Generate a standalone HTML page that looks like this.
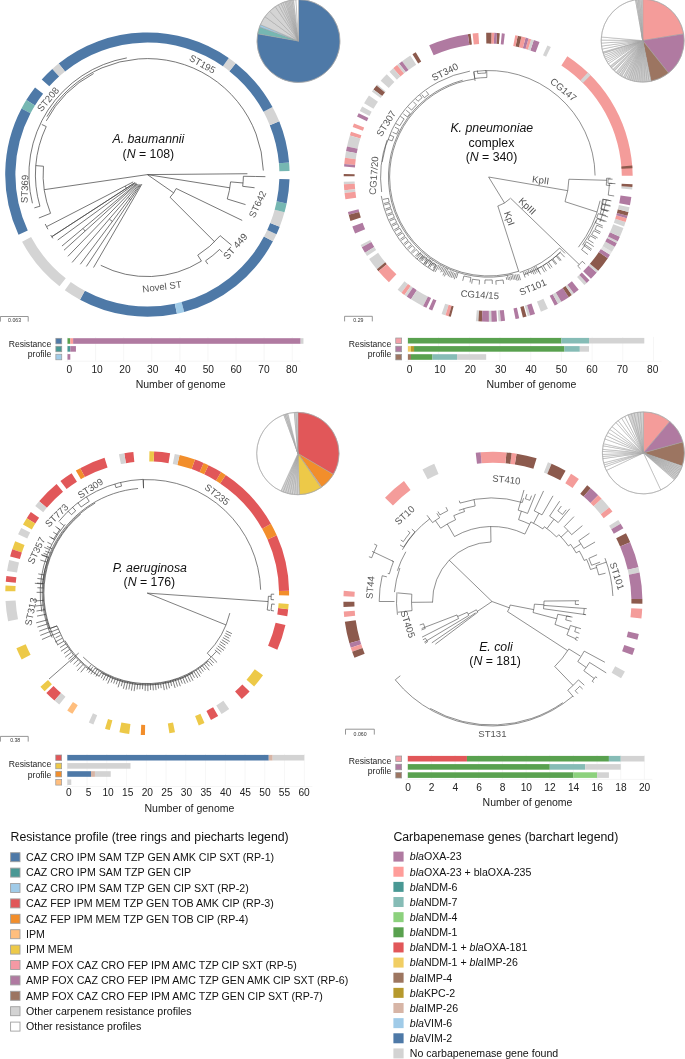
<!DOCTYPE html><html><head><meta charset="utf-8"><style>
html,body{margin:0;padding:0;background:#fff;width:685px;height:1059px;overflow:hidden}
svg{display:block;font-family:"Liberation Sans",sans-serif;will-change:transform}
</style></head><body>
<svg width="685" height="1059" viewBox="0 0 685 1059">
<path d="M79.98 299.8A142.2 142.2 0 0 0 176.97 313.69L174.84 303.72A132 132 0 0 1 84.82 290.82Z" fill="#4e79a7"/>
<path d="M176.97 313.69A142.2 142.2 0 0 0 184.2 311.95L181.56 302.1A132 132 0 0 1 174.84 303.72Z" fill="#a0cbe8"/>
<path d="M184.2 311.95A142.2 142.2 0 0 0 272.96 241.36L263.95 236.57A132 132 0 0 1 181.56 302.1Z" fill="#4e79a7"/>
<path d="M272.96 241.36A142.2 142.2 0 0 0 276.49 234.25L267.23 229.97A132 132 0 0 1 263.95 236.57Z" fill="#d4d4d4"/>
<path d="M276.49 234.25A142.2 142.2 0 0 0 279.71 226.72L270.22 222.98A132 132 0 0 1 267.23 229.97Z" fill="#4e79a7"/>
<path d="M279.71 226.72A142.2 142.2 0 0 0 284.49 212.36L274.66 209.65A132 132 0 0 1 270.22 222.98Z" fill="#d4d4d4"/>
<path d="M284.49 212.36A142.2 142.2 0 0 0 286.65 203.44L276.66 201.37A132 132 0 0 1 274.66 209.65Z" fill="#76b7b2"/>
<path d="M286.65 203.44A142.2 142.2 0 0 0 289.52 179.31L279.33 178.98A132 132 0 0 1 276.66 201.37Z" fill="#4e79a7"/>
<path d="M289.55 170.88A142.2 142.2 0 0 0 289.08 162.45L278.92 163.32A132 132 0 0 1 279.35 171.14Z" fill="#76b7b2"/>
<path d="M289.08 162.45A142.2 142.2 0 0 0 279.25 121.33L269.79 125.15A132 132 0 0 1 278.92 163.32Z" fill="#4e79a7"/>
<path d="M279.25 121.33A142.2 142.2 0 0 0 272.49 106.97L263.51 111.82A132 132 0 0 1 269.79 125.15Z" fill="#d4d4d4"/>
<path d="M272.49 106.97A142.2 142.2 0 0 0 235.73 63.16L229.39 71.15A132 132 0 0 1 263.51 111.82Z" fill="#4e79a7"/>
<path d="M235.73 63.16A142.2 142.2 0 0 0 228.76 57.97L222.92 66.34A132 132 0 0 1 229.39 71.15Z" fill="#d4d4d4"/>
<path d="M228.76 57.97A142.2 142.2 0 0 0 58.68 63.47L65.05 71.44A132 132 0 0 1 222.92 66.34Z" fill="#4e79a7"/>
<path d="M58.68 63.47A142.2 142.2 0 0 0 52.25 68.92L59.07 76.5A132 132 0 0 1 65.05 71.44Z" fill="#d4d4d4"/>
<path d="M52.25 68.92A142.2 142.2 0 0 0 41.72 79.45L49.3 86.27A132 132 0 0 1 59.07 76.5Z" fill="#4e79a7"/>
<path d="M35.04 87.44A142.2 142.2 0 0 0 26.28 100.09L34.97 105.43A132 132 0 0 1 43.1 93.7Z" fill="#4e79a7"/>
<path d="M26.28 100.09A142.2 142.2 0 0 0 21.5 108.5L30.53 113.24A132 132 0 0 1 34.97 105.43Z" fill="#76b7b2"/>
<path d="M21.5 108.5A142.2 142.2 0 0 0 18.52 234.7L27.77 230.39A132 132 0 0 1 30.53 113.24Z" fill="#4e79a7"/>
<path d="M22.08 241.8A142.2 142.2 0 0 0 59.46 286.35L65.77 278.33A132 132 0 0 1 31.07 236.98Z" fill="#d4d4d4"/>
<path d="M64.82 290.37A142.2 142.2 0 0 0 79.98 299.8L84.82 290.82A132 132 0 0 1 70.75 282.06Z" fill="#d4d4d4"/>
<path d="M632.69 175.69A144.5 144.5 0 0 0 567.32 56.29L561.35 65.41A133.6 133.6 0 0 1 621.79 175.8Z" fill="#f49c9a"/>
<path d="M632.41 168.13A144.5 144.5 0 0 0 632.23 165.61L621.37 166.49A133.6 133.6 0 0 1 621.54 168.81Z" fill="#8c5a4d"/>
<path d="M590.56 75.2A144.5 144.5 0 0 0 587.85 72.56L580.33 80.45A133.6 133.6 0 0 1 582.83 82.9Z" fill="#d4d4d4"/>
<path d="M550.86 46.99A144.5 144.5 0 0 0 547.43 45.4L542.97 55.34A133.6 133.6 0 0 1 546.14 56.82Z" fill="#d4d4d4"/>
<path d="M539.51 42.12A144.5 144.5 0 0 0 533.81 40.09L530.37 50.43A133.6 133.6 0 0 1 535.64 52.31Z" fill="#b07aa1"/>
<path d="M533.81 40.09A144.5 144.5 0 0 0 531.17 39.24L527.93 49.64A133.6 133.6 0 0 1 530.37 50.43Z" fill="#d4d4d4"/>
<path d="M531.17 39.24A144.5 144.5 0 0 0 528.51 38.44L525.47 48.9A133.6 133.6 0 0 1 527.93 49.64Z" fill="#f49c9a"/>
<path d="M528.51 38.44A144.5 144.5 0 0 0 525.6 37.62L522.78 48.15A133.6 133.6 0 0 1 525.47 48.9Z" fill="#b07aa1"/>
<path d="M525.6 37.62A144.5 144.5 0 0 0 521.44 36.58L518.93 47.18A133.6 133.6 0 0 1 522.78 48.15Z" fill="#f49c9a"/>
<path d="M521.44 36.58A144.5 144.5 0 0 0 517.75 35.75L515.52 46.42A133.6 133.6 0 0 1 518.93 47.18Z" fill="#8c5a4d"/>
<path d="M517.75 35.75A144.5 144.5 0 0 0 515.28 35.26L513.23 45.97A133.6 133.6 0 0 1 515.52 46.42Z" fill="#f49c9a"/>
<path d="M504.81 33.66A144.5 144.5 0 0 0 501.8 33.34L500.77 44.19A133.6 133.6 0 0 1 503.56 44.49Z" fill="#b07aa1"/>
<path d="M499.79 33.17A144.5 144.5 0 0 0 497.02 32.97L496.36 43.85A133.6 133.6 0 0 1 498.91 44.03Z" fill="#8c5a4d"/>
<path d="M497.02 32.97A144.5 144.5 0 0 0 494.25 32.83L493.79 43.72A133.6 133.6 0 0 1 496.36 43.85Z" fill="#b07aa1"/>
<path d="M494.25 32.83A144.5 144.5 0 0 0 491.48 32.74L491.23 43.63A133.6 133.6 0 0 1 493.79 43.72Z" fill="#f49c9a"/>
<path d="M491.48 32.74A144.5 144.5 0 0 0 486.18 32.71L486.33 43.61A133.6 133.6 0 0 1 491.23 43.63Z" fill="#8c5a4d"/>
<path d="M478.37 33.03A144.5 144.5 0 0 0 472.59 33.55L473.77 44.38A133.6 133.6 0 0 1 479.11 43.91Z" fill="#f49c9a"/>
<path d="M470.59 33.78A144.5 144.5 0 0 0 467.84 34.14L469.38 44.93A133.6 133.6 0 0 1 471.92 44.6Z" fill="#8c5a4d"/>
<path d="M467.84 34.14A144.5 144.5 0 0 0 429.2 45.3L433.65 55.25A133.6 133.6 0 0 1 469.38 44.93Z" fill="#b07aa1"/>
<path d="M415.73 52.19A144.5 144.5 0 0 0 412.48 54.13L418.2 63.41A133.6 133.6 0 0 1 421.2 61.62Z" fill="#8c5a4d"/>
<path d="M410.35 55.47A144.5 144.5 0 0 0 402.05 61.19L408.54 69.94A133.6 133.6 0 0 1 416.22 64.65Z" fill="#d4d4d4"/>
<path d="M402.05 61.19A144.5 144.5 0 0 0 399.04 63.49L405.76 72.07A133.6 133.6 0 0 1 408.54 69.94Z" fill="#b07aa1"/>
<path d="M399.04 63.49A144.5 144.5 0 0 0 397.07 65.06L403.94 73.52A133.6 133.6 0 0 1 405.76 72.07Z" fill="#d4d4d4"/>
<path d="M397.07 65.06A144.5 144.5 0 0 0 393.21 68.31L400.37 76.52A133.6 133.6 0 0 1 403.94 73.52Z" fill="#f49c9a"/>
<path d="M393.21 68.31A144.5 144.5 0 0 0 389.47 71.69L396.91 79.65A133.6 133.6 0 0 1 400.37 76.52Z" fill="#d4d4d4"/>
<path d="M386.74 74.31A144.5 144.5 0 0 0 380.65 80.7L388.76 87.98A133.6 133.6 0 0 1 394.39 82.07Z" fill="#d4d4d4"/>
<path d="M377.34 84.51A144.5 144.5 0 0 0 376.54 85.48L384.96 92.4A133.6 133.6 0 0 1 385.71 91.5Z" fill="#d4d4d4"/>
<path d="M376.54 85.48A144.5 144.5 0 0 0 373.41 89.43L382.07 96.05A133.6 133.6 0 0 1 384.96 92.4Z" fill="#8c5a4d"/>
<path d="M373.41 89.43A144.5 144.5 0 0 0 371.89 91.45L380.67 97.92A133.6 133.6 0 0 1 382.07 96.05Z" fill="#d4d4d4"/>
<path d="M368.97 95.56A144.5 144.5 0 0 0 364.08 103.21L373.44 108.79A133.6 133.6 0 0 1 377.96 101.72Z" fill="#d4d4d4"/>
<path d="M362.19 106.48A144.5 144.5 0 0 0 359.79 110.93L369.48 115.92A133.6 133.6 0 0 1 371.69 111.82Z" fill="#d4d4d4"/>
<path d="M358.66 113.18A144.5 144.5 0 0 0 357.03 116.59L366.92 121.16A133.6 133.6 0 0 1 368.43 118.01Z" fill="#b07aa1"/>
<path d="M354.03 123.54A144.5 144.5 0 0 0 352.68 127.07L362.9 130.85A133.6 133.6 0 0 1 364.15 127.59Z" fill="#f49c9a"/>
<path d="M351.01 131.83A144.5 144.5 0 0 0 349.87 135.43L360.3 138.59A133.6 133.6 0 0 1 361.36 135.25Z" fill="#f49c9a"/>
<path d="M349.87 135.43A144.5 144.5 0 0 0 347.02 146.42L357.67 148.74A133.6 133.6 0 0 1 360.3 138.59Z" fill="#d4d4d4"/>
<path d="M347.02 146.42A144.5 144.5 0 0 0 346.03 151.36L356.75 153.31A133.6 133.6 0 0 1 357.67 148.74Z" fill="#b07aa1"/>
<path d="M346.03 151.36A144.5 144.5 0 0 0 345 157.84L355.8 159.3A133.6 133.6 0 0 1 356.75 153.31Z" fill="#d4d4d4"/>
<path d="M345 157.84A144.5 144.5 0 0 0 344.29 164.1L355.15 165.09A133.6 133.6 0 0 1 355.8 159.3Z" fill="#f49c9a"/>
<path d="M344.29 164.1A144.5 144.5 0 0 0 344.09 166.62L354.96 167.42A133.6 133.6 0 0 1 355.15 165.09Z" fill="#b07aa1"/>
<path d="M343.74 173.92A144.5 144.5 0 0 0 343.7 176.19L354.6 176.27A133.6 133.6 0 0 1 354.63 174.17Z" fill="#8c5a4d"/>
<path d="M343.77 181.74A144.5 144.5 0 0 0 343.87 184.26L354.76 183.73A133.6 133.6 0 0 1 354.67 181.4Z" fill="#d4d4d4"/>
<path d="M343.87 184.26A144.5 144.5 0 0 0 344.29 190.3L355.15 189.31A133.6 133.6 0 0 1 354.76 183.73Z" fill="#f49c9a"/>
<path d="M344.29 190.3A144.5 144.5 0 0 0 344.57 193.06L355.41 191.86A133.6 133.6 0 0 1 355.15 189.31Z" fill="#d4d4d4"/>
<path d="M344.57 193.06A144.5 144.5 0 0 0 345.4 199.31L356.17 197.64A133.6 133.6 0 0 1 355.41 191.86Z" fill="#f49c9a"/>
<path d="M347.93 211.91A144.5 144.5 0 0 0 348.69 214.84L359.21 212A133.6 133.6 0 0 1 358.51 209.29Z" fill="#b07aa1"/>
<path d="M348.69 214.84A144.5 144.5 0 0 0 350.46 220.89L360.85 217.6A133.6 133.6 0 0 1 359.21 212Z" fill="#8c5a4d"/>
<path d="M352.33 226.38A144.5 144.5 0 0 0 355.09 233.43L365.13 229.19A133.6 133.6 0 0 1 362.58 222.67Z" fill="#b07aa1"/>
<path d="M360.61 245.04A144.5 144.5 0 0 0 361.82 247.25L371.35 241.97A133.6 133.6 0 0 1 370.24 239.92Z" fill="#d4d4d4"/>
<path d="M361.82 247.25A144.5 144.5 0 0 0 364.99 252.7L374.29 247.01A133.6 133.6 0 0 1 371.35 241.97Z" fill="#b07aa1"/>
<path d="M364.99 252.7A144.5 144.5 0 0 0 367.01 255.9L376.15 249.96A133.6 133.6 0 0 1 374.29 247.01Z" fill="#d4d4d4"/>
<path d="M369.11 259.05A144.5 144.5 0 0 0 376.86 269.31L385.26 262.36A133.6 133.6 0 0 1 378.1 252.87Z" fill="#d4d4d4"/>
<path d="M376.86 269.31A144.5 144.5 0 0 0 378.49 271.24L386.76 264.14A133.6 133.6 0 0 1 385.26 262.36Z" fill="#8c5a4d"/>
<path d="M378.49 271.24A144.5 144.5 0 0 0 388.92 282.19L396.41 274.27A133.6 133.6 0 0 1 386.76 264.14Z" fill="#f49c9a"/>
<path d="M397.66 289.81A144.5 144.5 0 0 0 401.44 292.75L407.98 284.04A133.6 133.6 0 0 1 404.49 281.32Z" fill="#d4d4d4"/>
<path d="M401.44 292.75A144.5 144.5 0 0 0 404.49 294.99L410.81 286.1A133.6 133.6 0 0 1 407.98 284.04Z" fill="#f49c9a"/>
<path d="M404.49 294.99A144.5 144.5 0 0 0 406.77 296.57L412.91 287.57A133.6 133.6 0 0 1 410.81 286.1Z" fill="#d4d4d4"/>
<path d="M406.77 296.57A144.5 144.5 0 0 0 410.99 299.34L416.81 290.13A133.6 133.6 0 0 1 412.91 287.57Z" fill="#b07aa1"/>
<path d="M410.99 299.34A144.5 144.5 0 0 0 423.05 306.18L427.96 296.45A133.6 133.6 0 0 1 416.81 290.13Z" fill="#d4d4d4"/>
<path d="M423.05 306.18A144.5 144.5 0 0 0 426.45 307.84L431.1 297.99A133.6 133.6 0 0 1 427.96 296.45Z" fill="#b07aa1"/>
<path d="M428.74 308.9A144.5 144.5 0 0 0 432.2 310.41L436.43 300.36A133.6 133.6 0 0 1 433.22 298.96Z" fill="#b07aa1"/>
<path d="M441.63 313.99A144.5 144.5 0 0 0 445.47 315.24L448.69 304.83A133.6 133.6 0 0 1 445.15 303.67Z" fill="#d4d4d4"/>
<path d="M445.47 315.24A144.5 144.5 0 0 0 448.61 316.17L451.6 305.69A133.6 133.6 0 0 1 448.69 304.83Z" fill="#f49c9a"/>
<path d="M448.61 316.17A144.5 144.5 0 0 0 450.8 316.78L453.62 306.25A133.6 133.6 0 0 1 451.6 305.69Z" fill="#8c5a4d"/>
<path d="M475.86 321.17A144.5 144.5 0 0 0 478.37 321.37L479.11 310.49A133.6 133.6 0 0 1 476.79 310.31Z" fill="#d4d4d4"/>
<path d="M478.37 321.37A144.5 144.5 0 0 0 481.9 321.56L482.37 310.67A133.6 133.6 0 0 1 479.11 310.49Z" fill="#8c5a4d"/>
<path d="M481.9 321.56A144.5 144.5 0 0 0 488.96 321.7L488.9 310.8A133.6 133.6 0 0 1 482.37 310.67Z" fill="#b07aa1"/>
<path d="M488.96 321.7A144.5 144.5 0 0 0 491.48 321.66L491.23 310.77A133.6 133.6 0 0 1 488.9 310.8Z" fill="#d4d4d4"/>
<path d="M491.48 321.66A144.5 144.5 0 0 0 497.02 321.43L496.36 310.55A133.6 133.6 0 0 1 491.23 310.77Z" fill="#b07aa1"/>
<path d="M498.53 321.33A144.5 144.5 0 0 0 500.79 321.15L499.84 310.29A133.6 133.6 0 0 1 497.75 310.46Z" fill="#d4d4d4"/>
<path d="M500.79 321.15A144.5 144.5 0 0 0 505.06 320.71L503.79 309.89A133.6 133.6 0 0 1 499.84 310.29Z" fill="#b07aa1"/>
<path d="M515.52 319.09A144.5 144.5 0 0 0 519.23 318.33L516.89 307.68A133.6 133.6 0 0 1 513.46 308.39Z" fill="#b07aa1"/>
<path d="M522.91 317.47A144.5 144.5 0 0 0 526.57 316.51L523.68 306A133.6 133.6 0 0 1 520.29 306.89Z" fill="#8c5a4d"/>
<path d="M527.79 316.17A144.5 144.5 0 0 0 530.21 315.46L527.04 305.03A133.6 133.6 0 0 1 524.8 305.69Z" fill="#d4d4d4"/>
<path d="M530.21 315.46A144.5 144.5 0 0 0 535.01 313.91L531.48 303.6A133.6 133.6 0 0 1 527.04 305.03Z" fill="#b07aa1"/>
<path d="M540.92 311.74A144.5 144.5 0 0 0 547.89 308.79L543.39 298.87A133.6 133.6 0 0 1 536.95 301.59Z" fill="#d4d4d4"/>
<path d="M554.7 305.49A144.5 144.5 0 0 0 558.03 303.7L552.77 294.16A133.6 133.6 0 0 1 549.68 295.81Z" fill="#b07aa1"/>
<path d="M558.03 303.7A144.5 144.5 0 0 0 561.32 301.83L555.81 292.43A133.6 133.6 0 0 1 552.77 294.16Z" fill="#d4d4d4"/>
<path d="M561.32 301.83A144.5 144.5 0 0 0 568.79 297.14L562.71 288.09A133.6 133.6 0 0 1 555.81 292.43Z" fill="#b07aa1"/>
<path d="M568.79 297.14A144.5 144.5 0 0 0 571.91 294.99L565.59 286.1A133.6 133.6 0 0 1 562.71 288.09Z" fill="#8c5a4d"/>
<path d="M571.91 294.99A144.5 144.5 0 0 0 573.95 293.51L567.48 284.73A133.6 133.6 0 0 1 565.59 286.1Z" fill="#d4d4d4"/>
<path d="M573.95 293.51A144.5 144.5 0 0 0 578.74 289.81L571.91 281.32A133.6 133.6 0 0 1 567.48 284.73Z" fill="#b07aa1"/>
<path d="M584.33 285.09A144.5 144.5 0 0 0 586.75 282.88L579.31 274.91A133.6 133.6 0 0 1 577.07 276.95Z" fill="#d4d4d4"/>
<path d="M586.75 282.88A144.5 144.5 0 0 0 589.48 280.26L581.84 272.49A133.6 133.6 0 0 1 579.31 274.91Z" fill="#b07aa1"/>
<path d="M590.91 278.84A144.5 144.5 0 0 0 596.76 272.57L588.57 265.38A133.6 133.6 0 0 1 583.16 271.17Z" fill="#b07aa1"/>
<path d="M596.76 272.57A144.5 144.5 0 0 0 598.24 270.85L589.94 263.79A133.6 133.6 0 0 1 588.57 265.38Z" fill="#d4d4d4"/>
<path d="M598.24 270.85A144.5 144.5 0 0 0 607.85 258.21L598.83 252.1A133.6 133.6 0 0 1 589.94 263.79Z" fill="#8c5a4d"/>
<path d="M607.85 258.21A144.5 144.5 0 0 0 610.07 254.84L600.88 248.98A133.6 133.6 0 0 1 598.83 252.1Z" fill="#b07aa1"/>
<path d="M610.07 254.84A144.5 144.5 0 0 0 611.93 251.84L602.6 246.21A133.6 133.6 0 0 1 600.88 248.98Z" fill="#e4e4e4"/>
<path d="M611.93 251.84A144.5 144.5 0 0 0 614.83 246.81L605.27 241.56A133.6 133.6 0 0 1 602.6 246.21Z" fill="#d4d4d4"/>
<path d="M614.83 246.81A144.5 144.5 0 0 0 616.84 243.03L607.13 238.06A133.6 133.6 0 0 1 605.27 241.56Z" fill="#b07aa1"/>
<path d="M616.84 243.03A144.5 144.5 0 0 0 617.74 241.22L607.97 236.39A133.6 133.6 0 0 1 607.13 238.06Z" fill="#d4d4d4"/>
<path d="M617.74 241.22A144.5 144.5 0 0 0 619.9 236.66L609.96 232.18A133.6 133.6 0 0 1 607.97 236.39Z" fill="#b07aa1"/>
<path d="M619.9 236.66A144.5 144.5 0 0 0 623.46 228.04L613.26 224.21A133.6 133.6 0 0 1 609.96 232.18Z" fill="#d4d4d4"/>
<path d="M624.07 226.38A144.5 144.5 0 0 0 625.55 222.09L615.19 218.71A133.6 133.6 0 0 1 613.82 222.67Z" fill="#d4d4d4"/>
<path d="M625.55 222.09A144.5 144.5 0 0 0 626.75 218.24L616.3 215.14A133.6 133.6 0 0 1 615.19 218.71Z" fill="#f49c9a"/>
<path d="M626.75 218.24A144.5 144.5 0 0 0 627.44 215.82L616.94 212.9A133.6 133.6 0 0 1 616.3 215.14Z" fill="#b07aa1"/>
<path d="M627.44 215.82A144.5 144.5 0 0 0 628.47 211.91L617.89 209.29A133.6 133.6 0 0 1 616.94 212.9Z" fill="#8c5a4d"/>
<path d="M628.47 211.91A144.5 144.5 0 0 0 629.54 207.24L618.88 204.98A133.6 133.6 0 0 1 617.89 209.29Z" fill="#d4d4d4"/>
<path d="M629.95 205.27A144.5 144.5 0 0 0 631.33 197.06L620.53 195.56A133.6 133.6 0 0 1 619.26 203.15Z" fill="#b07aa1"/>
<path d="M632.17 189.54A144.5 144.5 0 0 0 632.37 187.03L621.49 186.29A133.6 133.6 0 0 1 621.31 188.61Z" fill="#d4d4d4"/>
<path d="M632.37 187.03A144.5 144.5 0 0 0 632.53 184.26L621.64 183.73A133.6 133.6 0 0 1 621.49 186.29Z" fill="#8c5a4d"/>
<path d="M289.08 595.43A141.9 141.9 0 0 0 289.08 590.72L278.98 590.9A131.8 131.8 0 0 1 278.98 595.27Z" fill="#f28e2b"/>
<path d="M289.08 590.72A141.9 141.9 0 0 0 276.73 535.26L267.51 539.38A131.8 131.8 0 0 1 278.98 590.9Z" fill="#e15759"/>
<path d="M276.73 535.26A141.9 141.9 0 0 0 270.95 523.76L262.14 528.7A131.8 131.8 0 0 1 267.51 539.38Z" fill="#f28e2b"/>
<path d="M270.95 523.76A141.9 141.9 0 0 0 225.73 475.01L220.14 483.42A131.8 131.8 0 0 1 262.14 528.7Z" fill="#e15759"/>
<path d="M225.73 475.01A141.9 141.9 0 0 0 221.13 472.08L215.87 480.7A131.8 131.8 0 0 1 220.14 483.42Z" fill="#f28e2b"/>
<path d="M221.13 472.08A141.9 141.9 0 0 0 208.51 465.23L204.15 474.34A131.8 131.8 0 0 1 215.87 480.7Z" fill="#e15759"/>
<path d="M208.51 465.23A141.9 141.9 0 0 0 203.56 462.97L199.54 472.24A131.8 131.8 0 0 1 204.15 474.34Z" fill="#f28e2b"/>
<path d="M203.56 462.97A141.9 141.9 0 0 0 195.03 459.61L191.63 469.11A131.8 131.8 0 0 1 199.54 472.24Z" fill="#e15759"/>
<path d="M195.03 459.61A141.9 141.9 0 0 0 179.6 455.05L177.3 464.88A131.8 131.8 0 0 1 191.63 469.11Z" fill="#f28e2b"/>
<path d="M179.6 455.05A141.9 141.9 0 0 0 174.76 454L172.8 463.91A131.8 131.8 0 0 1 177.3 464.88Z" fill="#d4d4d4"/>
<path d="M170.13 453.17A141.9 141.9 0 0 0 154.13 451.47L153.64 461.56A131.8 131.8 0 0 1 168.5 463.13Z" fill="#e15759"/>
<path d="M154.13 451.47A141.9 141.9 0 0 0 149.43 451.32L149.27 461.42A131.8 131.8 0 0 1 153.64 461.56Z" fill="#edc948"/>
<path d="M133.35 451.98A141.9 141.9 0 0 0 124.27 453.17L125.9 463.13A131.8 131.8 0 0 1 134.34 462.03Z" fill="#e15759"/>
<path d="M124.27 453.17A141.9 141.9 0 0 0 118.91 454.15L120.92 464.05A131.8 131.8 0 0 1 125.9 463.13Z" fill="#d4d4d4"/>
<path d="M104.53 457.87A141.9 141.9 0 0 0 80.15 468.14L84.92 477.04A131.8 131.8 0 0 1 107.57 467.5Z" fill="#e15759"/>
<path d="M80.15 468.14A141.9 141.9 0 0 0 75.82 470.56L80.9 479.29A131.8 131.8 0 0 1 84.92 477.04Z" fill="#f28e2b"/>
<path d="M71.58 473.13A141.9 141.9 0 0 0 60.42 480.93L66.6 488.92A131.8 131.8 0 0 1 76.97 481.67Z" fill="#e15759"/>
<path d="M56.56 484.02A141.9 141.9 0 0 0 39.14 501.23L46.83 507.78A131.8 131.8 0 0 1 63.01 491.79Z" fill="#e15759"/>
<path d="M39.14 501.23A141.9 141.9 0 0 0 35.23 506.03L43.2 512.24A131.8 131.8 0 0 1 46.83 507.78Z" fill="#d4d4d4"/>
<path d="M30.82 512.01A141.9 141.9 0 0 0 26.73 518.21L35.31 523.55A131.8 131.8 0 0 1 39.1 517.79Z" fill="#e15759"/>
<path d="M26.73 518.21A141.9 141.9 0 0 0 22.97 524.62L31.81 529.5A131.8 131.8 0 0 1 35.31 523.55Z" fill="#edc948"/>
<path d="M21.22 527.9A141.9 141.9 0 0 0 18.08 534.36L27.27 538.54A131.8 131.8 0 0 1 30.19 532.55Z" fill="#d4d4d4"/>
<path d="M15.17 541.19A141.9 141.9 0 0 0 12.25 549.35L21.85 552.47A131.8 131.8 0 0 1 24.57 544.9Z" fill="#edc948"/>
<path d="M12.25 549.35A141.9 141.9 0 0 0 10.14 556.47L19.89 559.09A131.8 131.8 0 0 1 21.85 552.47Z" fill="#e15759"/>
<path d="M9.22 560.07A141.9 141.9 0 0 0 7.05 571L17.02 572.58A131.8 131.8 0 0 1 19.04 562.43Z" fill="#d4d4d4"/>
<path d="M6.36 575.91A141.9 141.9 0 0 0 5.76 581.82L15.82 582.63A131.8 131.8 0 0 1 16.38 577.14Z" fill="#e15759"/>
<path d="M5.51 585.53A141.9 141.9 0 0 0 5.31 591.22L15.41 591.36A131.8 131.8 0 0 1 15.59 586.07Z" fill="#edc948"/>
<path d="M5.52 601.12A141.9 141.9 0 0 0 8.1 621.25L18 619.25A131.8 131.8 0 0 1 15.61 600.56Z" fill="#d4d4d4"/>
<path d="M16.39 648.19A141.9 141.9 0 0 0 21.68 659.38L30.61 654.67A131.8 131.8 0 0 1 25.7 644.27Z" fill="#edc948"/>
<path d="M40.43 686.67A141.9 141.9 0 0 0 44.61 691.24L51.91 684.26A131.8 131.8 0 0 1 48.03 680.02Z" fill="#edc948"/>
<path d="M46.34 693.01A141.9 141.9 0 0 0 54.48 700.62L61.08 692.97A131.8 131.8 0 0 1 53.52 685.91Z" fill="#e15759"/>
<path d="M54.48 700.62A141.9 141.9 0 0 0 59.25 704.56L65.51 696.63A131.8 131.8 0 0 1 61.08 692.97Z" fill="#d4d4d4"/>
<path d="M67.24 710.42A141.9 141.9 0 0 0 72.42 713.8L77.75 705.22A131.8 131.8 0 0 1 72.93 702.08Z" fill="#ffbe7d"/>
<path d="M88.81 722.53A141.9 141.9 0 0 0 93.36 724.49L97.19 715.14A131.8 131.8 0 0 1 92.96 713.32Z" fill="#d4d4d4"/>
<path d="M105 728.68A141.9 141.9 0 0 0 109.76 730.07L112.42 720.33A131.8 131.8 0 0 1 108.01 719.04Z" fill="#edc948"/>
<path d="M119.4 732.35A141.9 141.9 0 0 0 129.17 733.95L130.45 723.93A131.8 131.8 0 0 1 121.37 722.45Z" fill="#edc948"/>
<path d="M140.76 734.95A141.9 141.9 0 0 0 144.97 735.08L145.13 724.98A131.8 131.8 0 0 1 141.22 724.86Z" fill="#f28e2b"/>
<path d="M169.4 733.35A141.9 141.9 0 0 0 175 732.35L173.03 722.45A131.8 131.8 0 0 1 167.82 723.38Z" fill="#edc948"/>
<path d="M198.75 725.41A141.9 141.9 0 0 0 204.46 723.03L200.39 713.79A131.8 131.8 0 0 1 195.08 716Z" fill="#edc948"/>
<path d="M210.96 719.97A141.9 141.9 0 0 0 218.15 716.09L213.1 707.34A131.8 131.8 0 0 1 206.42 710.95Z" fill="#e15759"/>
<path d="M221.55 714.06A141.9 141.9 0 0 0 229.2 709.01L223.36 700.77A131.8 131.8 0 0 1 216.26 705.46Z" fill="#d4d4d4"/>
<path d="M241.78 698.98A141.9 141.9 0 0 0 249.62 691.42L242.33 684.42A131.8 131.8 0 0 1 235.05 691.45Z" fill="#e15759"/>
<path d="M254.13 686.48A141.9 141.9 0 0 0 263.01 675.2L254.77 669.36A131.8 131.8 0 0 1 246.52 679.84Z" fill="#edc948"/>
<path d="M277.33 649.78A141.9 141.9 0 0 0 285.46 625.12L275.62 622.85A131.8 131.8 0 0 1 268.07 645.76Z" fill="#e15759"/>
<path d="M287.23 616.13A141.9 141.9 0 0 0 288.19 609.26L278.15 608.12A131.8 131.8 0 0 1 277.27 614.5Z" fill="#e15759"/>
<path d="M288.19 609.26A141.9 141.9 0 0 0 288.68 604.09L278.61 603.31A131.8 131.8 0 0 1 278.15 608.12Z" fill="#edc948"/>
<path d="M536.61 458.33A149.5 149.5 0 0 0 516.54 453.68L514.8 464.54A138.5 138.5 0 0 1 533.39 468.85Z" fill="#8c5a4d"/>
<path d="M516.54 453.68A149.5 149.5 0 0 0 511.64 452.98L510.26 463.89A138.5 138.5 0 0 1 514.8 464.54Z" fill="#f49c9a"/>
<path d="M511.64 452.98A149.5 149.5 0 0 0 506.45 452.42L505.45 463.37A138.5 138.5 0 0 1 510.26 463.89Z" fill="#8c5a4d"/>
<path d="M506.45 452.42A149.5 149.5 0 0 0 480.65 452.3L481.55 463.27A138.5 138.5 0 0 1 505.45 463.37Z" fill="#f49c9a"/>
<path d="M480.65 452.3A149.5 149.5 0 0 0 475.72 452.79L476.98 463.72A138.5 138.5 0 0 1 481.55 463.27Z" fill="#b07aa1"/>
<path d="M551.55 463.79A149.5 149.5 0 0 0 547.93 462.3L543.89 472.53A138.5 138.5 0 0 1 547.24 473.9Z" fill="#d4d4d4"/>
<path d="M565.61 470.67A149.5 149.5 0 0 0 551.55 463.79L547.24 473.9A138.5 138.5 0 0 1 560.26 480.28Z" fill="#8c5a4d"/>
<path d="M578.86 478.99A149.5 149.5 0 0 0 571.01 473.83L565.27 483.21A138.5 138.5 0 0 1 572.54 487.99Z" fill="#f49c9a"/>
<path d="M590.78 488.3A149.5 149.5 0 0 0 587.19 485.28L580.25 493.82A138.5 138.5 0 0 1 583.58 496.61Z" fill="#8c5a4d"/>
<path d="M598.24 495.22A149.5 149.5 0 0 0 590.78 488.3L583.58 496.61A138.5 138.5 0 0 1 590.49 503.02Z" fill="#b07aa1"/>
<path d="M601.7 498.77A149.5 149.5 0 0 0 598.24 495.22L590.49 503.02A138.5 138.5 0 0 1 593.7 506.31Z" fill="#f49c9a"/>
<path d="M609.25 507.42A149.5 149.5 0 0 0 601.7 498.77L593.7 506.31A138.5 138.5 0 0 1 600.69 514.33Z" fill="#d4d4d4"/>
<path d="M612.45 511.54A149.5 149.5 0 0 0 609.25 507.42L600.69 514.33A138.5 138.5 0 0 1 603.66 518.14Z" fill="#f49c9a"/>
<path d="M620.64 523.63A149.5 149.5 0 0 0 618.28 519.88L609.06 525.87A138.5 138.5 0 0 1 611.24 529.35Z" fill="#d4d4d4"/>
<path d="M623.4 528.36A149.5 149.5 0 0 0 620.64 523.63L611.24 529.35A138.5 138.5 0 0 1 613.8 533.73Z" fill="#b07aa1"/>
<path d="M630.21 542.17A149.5 149.5 0 0 0 625.99 533.2L616.19 538.21A138.5 138.5 0 0 1 620.1 546.52Z" fill="#8c5a4d"/>
<path d="M638.45 567.16A149.5 149.5 0 0 0 630.21 542.17L620.1 546.52A138.5 138.5 0 0 1 627.74 569.67Z" fill="#b07aa1"/>
<path d="M639.6 572.52A149.5 149.5 0 0 0 638.45 567.16L627.74 569.67A138.5 138.5 0 0 1 628.81 574.64Z" fill="#d4d4d4"/>
<path d="M642.38 598.95A149.5 149.5 0 0 0 639.6 572.52L628.81 574.64A138.5 138.5 0 0 1 631.38 599.12Z" fill="#b07aa1"/>
<path d="M642.38 603.65A149.5 149.5 0 0 0 642.38 598.95L631.38 599.12A138.5 138.5 0 0 1 631.38 603.48Z" fill="#8c5a4d"/>
<path d="M641.41 618.48A149.5 149.5 0 0 0 642.21 608.86L631.22 608.31A138.5 138.5 0 0 1 630.48 617.22Z" fill="#f49c9a"/>
<path d="M637.37 639.74A149.5 149.5 0 0 0 638.8 633.91L628.06 631.51A138.5 138.5 0 0 1 626.74 636.91Z" fill="#b07aa1"/>
<path d="M632.38 655.12A149.5 149.5 0 0 0 634.76 648.49L624.32 645.02A138.5 138.5 0 0 1 622.11 651.16Z" fill="#b07aa1"/>
<path d="M621.05 678.3A149.5 149.5 0 0 0 624.9 671.49L615.19 666.32A138.5 138.5 0 0 1 611.62 672.63Z" fill="#d4d4d4"/>
<path d="M434.25 463.79A149.5 149.5 0 0 0 422.48 469.42L427.66 479.13A138.5 138.5 0 0 1 438.56 473.9Z" fill="#d4d4d4"/>
<path d="M403.97 481.12A149.5 149.5 0 0 0 385 497.82L392.94 505.44A138.5 138.5 0 0 1 410.52 489.97Z" fill="#f49c9a"/>
<path d="M343.76 590.87A149.5 149.5 0 0 0 343.48 596.34L354.48 596.71A138.5 138.5 0 0 1 354.74 591.64Z" fill="#f49c9a"/>
<path d="M343.4 601.82A149.5 149.5 0 0 0 343.51 607.04L354.5 606.62A138.5 138.5 0 0 1 354.4 601.78Z" fill="#8c5a4d"/>
<path d="M343.75 611.47A149.5 149.5 0 0 0 344.22 616.93L355.16 615.78A138.5 138.5 0 0 1 354.72 610.72Z" fill="#f49c9a"/>
<path d="M344.82 621.85A149.5 149.5 0 0 0 349.41 643.26L359.97 640.17A138.5 138.5 0 0 1 355.71 620.34Z" fill="#8c5a4d"/>
<path d="M349.41 643.26A149.5 149.5 0 0 0 350.8 647.75L361.25 644.33A138.5 138.5 0 0 1 359.97 640.17Z" fill="#b07aa1"/>
<path d="M350.8 647.75A149.5 149.5 0 0 0 352.15 651.7L362.51 647.99A138.5 138.5 0 0 1 361.25 644.33Z" fill="#f49c9a"/>
<path d="M352.15 651.7A149.5 149.5 0 0 0 354.48 657.79L364.67 653.63A138.5 138.5 0 0 1 362.51 647.99Z" fill="#8c5a4d"/>
<path d="M298.5 41L298.5 -0.5A41.5 41.5 0 1 1 257.63 33.79Z" fill="#4e79a7" stroke="#a0a0a0" stroke-width="0.5"/>
<path d="M298.5 41L257.63 33.79A41.5 41.5 0 0 1 259.5 26.81Z" fill="#76b7b2" stroke="#a0a0a0" stroke-width="0.5"/>
<path d="M298.5 41L259.5 26.81A41.5 41.5 0 0 1 260.38 24.58Z" fill="#a0cbe8" stroke="#a0a0a0" stroke-width="0.5"/>
<path d="M298.5 41L260.38 24.58A41.5 41.5 0 0 1 264.93 16.61Z" fill="#d4d4d4" stroke="#a0a0a0" stroke-width="0.5"/>
<path d="M298.5 41L264.93 16.61A41.5 41.5 0 0 1 269.67 11.15Z" fill="#d4d4d4" stroke="#a0a0a0" stroke-width="0.5"/>
<path d="M298.5 41L269.67 11.15A41.5 41.5 0 0 1 275.29 6.59Z" fill="#d4d4d4" stroke="#a0a0a0" stroke-width="0.5"/>
<path d="M298.5 41L275.29 6.59A41.5 41.5 0 0 1 278.38 4.7Z" fill="#d4d4d4" stroke="#a0a0a0" stroke-width="0.5"/>
<path d="M298.5 41L278.38 4.7A41.5 41.5 0 0 1 280.96 3.39Z" fill="#d4d4d4" stroke="#a0a0a0" stroke-width="0.5"/>
<path d="M298.5 41L280.96 3.39A41.5 41.5 0 0 1 282.95 2.52Z" fill="#d4d4d4" stroke="#a0a0a0" stroke-width="0.5"/>
<path d="M298.5 41L282.95 2.52A41.5 41.5 0 0 1 284.99 1.76Z" fill="#d4d4d4" stroke="#a0a0a0" stroke-width="0.5"/>
<path d="M298.5 41L284.99 1.76A41.5 41.5 0 0 1 286.37 1.31Z" fill="#d4d4d4" stroke="#a0a0a0" stroke-width="0.5"/>
<path d="M298.5 41L286.37 1.31A41.5 41.5 0 0 1 287.76 0.91Z" fill="#d4d4d4" stroke="#a0a0a0" stroke-width="0.5"/>
<path d="M298.5 41L287.76 0.91A41.5 41.5 0 0 1 289.16 0.56Z" fill="#d4d4d4" stroke="#a0a0a0" stroke-width="0.5"/>
<path d="M298.5 41L289.16 0.56A41.5 41.5 0 0 1 290.58 0.26Z" fill="#d4d4d4" stroke="#a0a0a0" stroke-width="0.5"/>
<path d="M298.5 41L290.58 0.26A41.5 41.5 0 0 1 292.01 0.01Z" fill="#d4d4d4" stroke="#a0a0a0" stroke-width="0.5"/>
<path d="M298.5 41L292.01 0.01A41.5 41.5 0 0 1 293.66 -0.22Z" fill="#d4d4d4" stroke="#a0a0a0" stroke-width="0.5"/>
<path d="M298.5 41L293.66 -0.22A41.5 41.5 0 0 1 295.97 -0.42Z" fill="#ffffff" stroke="#a0a0a0" stroke-width="0.5"/>
<path d="M298.5 41L295.97 -0.42A41.5 41.5 0 0 1 298.5 -0.5Z" fill="#ffffff" stroke="#a0a0a0" stroke-width="0.5"/>
<circle cx="298.5" cy="41" r="41.5" fill="none" stroke="#a8a8a8" stroke-width="0.6"/>
<path d="M642.7 40.6L642.7 -0.9A41.5 41.5 0 0 1 683.65 33.89Z" fill="#f49c9a" stroke="#a0a0a0" stroke-width="0.5"/>
<path d="M642.7 40.6L683.65 33.89A41.5 41.5 0 0 1 668.59 73.03Z" fill="#b07aa1" stroke="#a0a0a0" stroke-width="0.5"/>
<path d="M642.7 40.6L668.59 73.03A41.5 41.5 0 0 1 651.04 81.25Z" fill="#9c7561" stroke="#a0a0a0" stroke-width="0.5"/>
<path d="M642.7 40.6L651.04 81.25A41.5 41.5 0 0 1 649 81.62Z" fill="#d4d4d4" stroke="#a0a0a0" stroke-width="0.5"/>
<path d="M642.7 40.6L649 81.62A41.5 41.5 0 0 1 646.93 81.88Z" fill="#d4d4d4" stroke="#a0a0a0" stroke-width="0.5"/>
<path d="M642.7 40.6L646.93 81.88A41.5 41.5 0 0 1 644.86 82.04Z" fill="#d4d4d4" stroke="#a0a0a0" stroke-width="0.5"/>
<path d="M642.7 40.6L644.86 82.04A41.5 41.5 0 0 1 642.78 82.1Z" fill="#d4d4d4" stroke="#a0a0a0" stroke-width="0.5"/>
<path d="M642.7 40.6L642.78 82.1A41.5 41.5 0 0 1 640.7 82.05Z" fill="#d4d4d4" stroke="#a0a0a0" stroke-width="0.5"/>
<path d="M642.7 40.6L640.7 82.05A41.5 41.5 0 0 1 638.62 81.9Z" fill="#d4d4d4" stroke="#a0a0a0" stroke-width="0.5"/>
<path d="M642.7 40.6L638.62 81.9A41.5 41.5 0 0 1 636.56 81.64Z" fill="#d4d4d4" stroke="#a0a0a0" stroke-width="0.5"/>
<path d="M642.7 40.6L636.56 81.64A41.5 41.5 0 0 1 634.51 81.28Z" fill="#d4d4d4" stroke="#a0a0a0" stroke-width="0.5"/>
<path d="M642.7 40.6L634.51 81.28A41.5 41.5 0 0 1 632.48 80.82Z" fill="#d4d4d4" stroke="#a0a0a0" stroke-width="0.5"/>
<path d="M642.7 40.6L632.48 80.82A41.5 41.5 0 0 1 630.48 80.26Z" fill="#d4d4d4" stroke="#a0a0a0" stroke-width="0.5"/>
<path d="M642.7 40.6L630.48 80.26A41.5 41.5 0 0 1 628.51 79.6Z" fill="#d4d4d4" stroke="#a0a0a0" stroke-width="0.5"/>
<path d="M642.7 40.6L628.51 79.6A41.5 41.5 0 0 1 626.48 78.8Z" fill="#d4d4d4" stroke="#a0a0a0" stroke-width="0.5"/>
<path d="M642.7 40.6L626.48 78.8A41.5 41.5 0 0 1 625.16 78.21Z" fill="#ffffff" stroke="#a0a0a0" stroke-width="0.5"/>
<path d="M642.7 40.6L625.16 78.21A41.5 41.5 0 0 1 623.22 77.24Z" fill="#d4d4d4" stroke="#a0a0a0" stroke-width="0.5"/>
<path d="M642.7 40.6L623.22 77.24A41.5 41.5 0 0 1 621.64 76.36Z" fill="#ffffff" stroke="#a0a0a0" stroke-width="0.5"/>
<path d="M642.7 40.6L621.64 76.36A41.5 41.5 0 0 1 619.49 75.01Z" fill="#d4d4d4" stroke="#a0a0a0" stroke-width="0.5"/>
<path d="M642.7 40.6L619.49 75.01A41.5 41.5 0 0 1 618.31 74.17Z" fill="#ffffff" stroke="#a0a0a0" stroke-width="0.5"/>
<path d="M642.7 40.6L618.31 74.17A41.5 41.5 0 0 1 616.02 72.39Z" fill="#d4d4d4" stroke="#a0a0a0" stroke-width="0.5"/>
<path d="M642.7 40.6L616.02 72.39A41.5 41.5 0 0 1 614.4 70.95Z" fill="#ffffff" stroke="#a0a0a0" stroke-width="0.5"/>
<path d="M642.7 40.6L614.4 70.95A41.5 41.5 0 0 1 612.85 69.43Z" fill="#d4d4d4" stroke="#a0a0a0" stroke-width="0.5"/>
<path d="M642.7 40.6L612.85 69.43A41.5 41.5 0 0 1 611.38 67.83Z" fill="#ffffff" stroke="#a0a0a0" stroke-width="0.5"/>
<path d="M642.7 40.6L611.38 67.83A41.5 41.5 0 0 1 610 66.15Z" fill="#d4d4d4" stroke="#a0a0a0" stroke-width="0.5"/>
<path d="M642.7 40.6L610 66.15A41.5 41.5 0 0 1 608.29 63.81Z" fill="#ffffff" stroke="#a0a0a0" stroke-width="0.5"/>
<path d="M642.7 40.6L608.29 63.81A41.5 41.5 0 0 1 607.25 62.18Z" fill="#ffffff" stroke="#a0a0a0" stroke-width="0.5"/>
<path d="M642.7 40.6L607.25 62.18A41.5 41.5 0 0 1 606.29 60.51Z" fill="#ffffff" stroke="#a0a0a0" stroke-width="0.5"/>
<path d="M642.7 40.6L606.29 60.51A41.5 41.5 0 0 1 605.4 58.79Z" fill="#ffffff" stroke="#a0a0a0" stroke-width="0.5"/>
<path d="M642.7 40.6L605.4 58.79A41.5 41.5 0 0 1 604.59 57.04Z" fill="#ffffff" stroke="#a0a0a0" stroke-width="0.5"/>
<path d="M642.7 40.6L604.59 57.04A41.5 41.5 0 0 1 603.87 55.25Z" fill="#ffffff" stroke="#a0a0a0" stroke-width="0.5"/>
<path d="M642.7 40.6L603.87 55.25A41.5 41.5 0 0 1 603.23 53.42Z" fill="#ffffff" stroke="#a0a0a0" stroke-width="0.5"/>
<path d="M642.7 40.6L603.23 53.42A41.5 41.5 0 0 1 602.81 52.04Z" fill="#d4d4d4" stroke="#a0a0a0" stroke-width="0.5"/>
<path d="M642.7 40.6L602.81 52.04A41.5 41.5 0 0 1 602.08 49.09Z" fill="#ffffff" stroke="#a0a0a0" stroke-width="0.5"/>
<path d="M642.7 40.6L602.08 49.09A41.5 41.5 0 0 1 601.56 46.09Z" fill="#ffffff" stroke="#a0a0a0" stroke-width="0.5"/>
<path d="M642.7 40.6L601.56 46.09A41.5 41.5 0 0 1 601.27 43.06Z" fill="#ffffff" stroke="#a0a0a0" stroke-width="0.5"/>
<path d="M642.7 40.6L601.27 43.06A41.5 41.5 0 0 1 601.2 40.02Z" fill="#ffffff" stroke="#a0a0a0" stroke-width="0.5"/>
<path d="M642.7 40.6L601.2 40.02A41.5 41.5 0 0 1 601.36 36.98Z" fill="#ffffff" stroke="#a0a0a0" stroke-width="0.5"/>
<path d="M642.7 40.6L601.36 36.98A41.5 41.5 0 0 1 635.49 -0.27Z" fill="#ffffff" stroke="#a0a0a0" stroke-width="0.5"/>
<path d="M642.7 40.6L635.49 -0.27A41.5 41.5 0 0 1 636.92 -0.5Z" fill="#d4d4d4" stroke="#a0a0a0" stroke-width="0.5"/>
<path d="M642.7 40.6L636.92 -0.5A41.5 41.5 0 0 1 638.36 -0.67Z" fill="#d4d4d4" stroke="#a0a0a0" stroke-width="0.5"/>
<path d="M642.7 40.6L638.36 -0.67A41.5 41.5 0 0 1 639.81 -0.8Z" fill="#d4d4d4" stroke="#a0a0a0" stroke-width="0.5"/>
<path d="M642.7 40.6L639.81 -0.8A41.5 41.5 0 0 1 641.25 -0.87Z" fill="#d4d4d4" stroke="#a0a0a0" stroke-width="0.5"/>
<path d="M642.7 40.6L641.25 -0.87A41.5 41.5 0 0 1 642.7 -0.9Z" fill="#d4d4d4" stroke="#a0a0a0" stroke-width="0.5"/>
<circle cx="642.7" cy="40.6" r="41.5" fill="none" stroke="#a8a8a8" stroke-width="0.6"/>
<path d="M297.9 453.5L297.9 412.3A41.2 41.2 0 0 1 333.4 474.41Z" fill="#e15759" stroke="#a0a0a0" stroke-width="0.5"/>
<path d="M297.9 453.5L333.4 474.41A41.2 41.2 0 0 1 321.71 487.12Z" fill="#f28e2b" stroke="#a0a0a0" stroke-width="0.5"/>
<path d="M297.9 453.5L321.71 487.12A41.2 41.2 0 0 1 320.94 487.66Z" fill="#ffbe7d" stroke="#a0a0a0" stroke-width="0.5"/>
<path d="M297.9 453.5L320.94 487.66A41.2 41.2 0 0 1 299.34 494.67Z" fill="#edc948" stroke="#a0a0a0" stroke-width="0.5"/>
<path d="M297.9 453.5L299.34 494.67A41.2 41.2 0 0 1 296.97 494.69Z" fill="#d4d4d4" stroke="#a0a0a0" stroke-width="0.5"/>
<path d="M297.9 453.5L296.97 494.69A41.2 41.2 0 0 1 294.6 494.57Z" fill="#d4d4d4" stroke="#a0a0a0" stroke-width="0.5"/>
<path d="M297.9 453.5L294.6 494.57A41.2 41.2 0 0 1 292.24 494.31Z" fill="#d4d4d4" stroke="#a0a0a0" stroke-width="0.5"/>
<path d="M297.9 453.5L292.24 494.31A41.2 41.2 0 0 1 289.9 493.92Z" fill="#d4d4d4" stroke="#a0a0a0" stroke-width="0.5"/>
<path d="M297.9 453.5L289.9 493.92A41.2 41.2 0 0 1 287.58 493.39Z" fill="#d4d4d4" stroke="#a0a0a0" stroke-width="0.5"/>
<path d="M297.9 453.5L287.58 493.39A41.2 41.2 0 0 1 285.31 492.73Z" fill="#d4d4d4" stroke="#a0a0a0" stroke-width="0.5"/>
<path d="M297.9 453.5L285.31 492.73A41.2 41.2 0 0 1 283.07 491.94Z" fill="#d4d4d4" stroke="#a0a0a0" stroke-width="0.5"/>
<path d="M297.9 453.5L283.07 491.94A41.2 41.2 0 0 1 280.88 491.02Z" fill="#d4d4d4" stroke="#a0a0a0" stroke-width="0.5"/>
<path d="M297.9 453.5L280.88 491.02A41.2 41.2 0 0 1 283.81 414.78Z" fill="#ffffff" stroke="#a0a0a0" stroke-width="0.5"/>
<path d="M297.9 453.5L283.81 414.78A41.2 41.2 0 0 1 285.17 414.32Z" fill="#d4d4d4" stroke="#a0a0a0" stroke-width="0.5"/>
<path d="M297.9 453.5L285.17 414.32A41.2 41.2 0 0 1 286.54 413.9Z" fill="#d4d4d4" stroke="#a0a0a0" stroke-width="0.5"/>
<path d="M297.9 453.5L286.54 413.9A41.2 41.2 0 0 1 287.93 413.52Z" fill="#d4d4d4" stroke="#a0a0a0" stroke-width="0.5"/>
<path d="M297.9 453.5L287.93 413.52A41.2 41.2 0 0 1 294.31 412.46Z" fill="#ffffff" stroke="#a0a0a0" stroke-width="0.5"/>
<path d="M297.9 453.5L294.31 412.46A41.2 41.2 0 0 1 296.1 412.34Z" fill="#d4d4d4" stroke="#a0a0a0" stroke-width="0.5"/>
<path d="M297.9 453.5L296.1 412.34A41.2 41.2 0 0 1 297.9 412.3Z" fill="#d4d4d4" stroke="#a0a0a0" stroke-width="0.5"/>
<circle cx="297.9" cy="453.5" r="41.2" fill="none" stroke="#a8a8a8" stroke-width="0.6"/>
<path d="M643.4 452.9L643.4 411.9A41 41 0 0 1 669.81 421.54Z" fill="#f49c9a" stroke="#a0a0a0" stroke-width="0.5"/>
<path d="M643.4 452.9L669.81 421.54A41 41 0 0 1 682.93 442.01Z" fill="#b07aa1" stroke="#a0a0a0" stroke-width="0.5"/>
<path d="M643.4 452.9L682.93 442.01A41 41 0 0 1 682.24 466.05Z" fill="#9c7561" stroke="#a0a0a0" stroke-width="0.5"/>
<path d="M643.4 452.9L682.24 466.05A41 41 0 0 1 681.69 467.55Z" fill="#d4d4d4" stroke="#a0a0a0" stroke-width="0.5"/>
<path d="M643.4 452.9L681.69 467.55A41 41 0 0 1 681.1 469.03Z" fill="#d4d4d4" stroke="#a0a0a0" stroke-width="0.5"/>
<path d="M643.4 452.9L681.1 469.03A41 41 0 0 1 680.44 470.48Z" fill="#d4d4d4" stroke="#a0a0a0" stroke-width="0.5"/>
<path d="M643.4 452.9L680.44 470.48A41 41 0 0 1 679.73 471.91Z" fill="#d4d4d4" stroke="#a0a0a0" stroke-width="0.5"/>
<path d="M643.4 452.9L679.73 471.91A41 41 0 0 1 678.96 473.31Z" fill="#d4d4d4" stroke="#a0a0a0" stroke-width="0.5"/>
<path d="M643.4 452.9L678.96 473.31A41 41 0 0 1 678.14 474.68Z" fill="#d4d4d4" stroke="#a0a0a0" stroke-width="0.5"/>
<path d="M643.4 452.9L678.14 474.68A41 41 0 0 1 677.27 476.01Z" fill="#d4d4d4" stroke="#a0a0a0" stroke-width="0.5"/>
<path d="M643.4 452.9L677.27 476.01A41 41 0 0 1 676.34 477.31Z" fill="#d4d4d4" stroke="#a0a0a0" stroke-width="0.5"/>
<path d="M643.4 452.9L676.34 477.31A41 41 0 0 1 675.37 478.57Z" fill="#d4d4d4" stroke="#a0a0a0" stroke-width="0.5"/>
<path d="M643.4 452.9L675.37 478.57A41 41 0 0 1 674.34 479.8Z" fill="#d4d4d4" stroke="#a0a0a0" stroke-width="0.5"/>
<path d="M643.4 452.9L674.34 479.8A41 41 0 0 1 660.73 490.06Z" fill="#ffffff" stroke="#a0a0a0" stroke-width="0.5"/>
<path d="M643.4 452.9L660.73 490.06A41 41 0 0 1 606.33 470.42Z" fill="#ffffff" stroke="#a0a0a0" stroke-width="0.5"/>
<path d="M643.4 452.9L606.33 470.42A41 41 0 0 1 604.87 466.92Z" fill="#ffffff" stroke="#a0a0a0" stroke-width="0.5"/>
<path d="M643.4 452.9L604.87 466.92A41 41 0 0 1 604.19 464.89Z" fill="#ffffff" stroke="#a0a0a0" stroke-width="0.5"/>
<path d="M643.4 452.9L604.19 464.89A41 41 0 0 1 603.62 462.82Z" fill="#ffffff" stroke="#a0a0a0" stroke-width="0.5"/>
<path d="M643.4 452.9L603.62 462.82A41 41 0 0 1 602.8 458.61Z" fill="#ffffff" stroke="#a0a0a0" stroke-width="0.5"/>
<path d="M643.4 452.9L602.8 458.61A41 41 0 0 1 602.56 456.47Z" fill="#ffffff" stroke="#a0a0a0" stroke-width="0.5"/>
<path d="M643.4 452.9L602.56 456.47A41 41 0 0 1 602.42 454.33Z" fill="#ffffff" stroke="#a0a0a0" stroke-width="0.5"/>
<path d="M643.4 452.9L602.42 454.33A41 41 0 0 1 602.42 451.47Z" fill="#ffffff" stroke="#a0a0a0" stroke-width="0.5"/>
<path d="M643.4 452.9L602.42 451.47A41 41 0 0 1 602.56 449.33Z" fill="#ffffff" stroke="#a0a0a0" stroke-width="0.5"/>
<path d="M643.4 452.9L602.56 449.33A41 41 0 0 1 603.02 445.78Z" fill="#ffffff" stroke="#a0a0a0" stroke-width="0.5"/>
<path d="M643.4 452.9L603.02 445.78A41 41 0 0 1 603.45 443.68Z" fill="#ffffff" stroke="#a0a0a0" stroke-width="0.5"/>
<path d="M643.4 452.9L603.45 443.68A41 41 0 0 1 604.87 438.88Z" fill="#ffffff" stroke="#a0a0a0" stroke-width="0.5"/>
<path d="M643.4 452.9L604.87 438.88A41 41 0 0 1 606.24 435.57Z" fill="#ffffff" stroke="#a0a0a0" stroke-width="0.5"/>
<path d="M643.4 452.9L606.24 435.57A41 41 0 0 1 607.89 432.4Z" fill="#ffffff" stroke="#a0a0a0" stroke-width="0.5"/>
<path d="M643.4 452.9L607.89 432.4A41 41 0 0 1 609.81 429.38Z" fill="#ffffff" stroke="#a0a0a0" stroke-width="0.5"/>
<path d="M643.4 452.9L609.81 429.38A41 41 0 0 1 611.99 426.55Z" fill="#ffffff" stroke="#a0a0a0" stroke-width="0.5"/>
<path d="M643.4 452.9L611.99 426.55A41 41 0 0 1 615.97 422.43Z" fill="#ffffff" stroke="#a0a0a0" stroke-width="0.5"/>
<path d="M643.4 452.9L615.97 422.43A41 41 0 0 1 618.16 420.59Z" fill="#ffffff" stroke="#a0a0a0" stroke-width="0.5"/>
<path d="M643.4 452.9L618.16 420.59A41 41 0 0 1 621.67 418.13Z" fill="#ffffff" stroke="#a0a0a0" stroke-width="0.5"/>
<path d="M643.4 452.9L621.67 418.13A41 41 0 0 1 624.79 416.37Z" fill="#ffffff" stroke="#a0a0a0" stroke-width="0.5"/>
<path d="M643.4 452.9L624.79 416.37A41 41 0 0 1 628.04 414.89Z" fill="#ffffff" stroke="#a0a0a0" stroke-width="0.5"/>
<path d="M643.4 452.9L628.04 414.89A41 41 0 0 1 631.41 413.69Z" fill="#d4d4d4" stroke="#a0a0a0" stroke-width="0.5"/>
<path d="M643.4 452.9L631.41 413.69A41 41 0 0 1 634.18 412.95Z" fill="#d4d4d4" stroke="#a0a0a0" stroke-width="0.5"/>
<path d="M643.4 452.9L634.18 412.95A41 41 0 0 1 637.69 412.3Z" fill="#d4d4d4" stroke="#a0a0a0" stroke-width="0.5"/>
<path d="M643.4 452.9L637.69 412.3A41 41 0 0 1 640.54 412Z" fill="#d4d4d4" stroke="#a0a0a0" stroke-width="0.5"/>
<path d="M643.4 452.9L640.54 412A41 41 0 0 1 643.4 411.9Z" fill="#d4d4d4" stroke="#a0a0a0" stroke-width="0.5"/>
<circle cx="643.4" cy="452.9" r="41" fill="none" stroke="#a8a8a8" stroke-width="0.6"/>
<line x1="67.5" y1="337.2" x2="67.5" y2="361.2" stroke="#f0f0f0" stroke-width="0.6"/>
<line x1="95.59" y1="337.2" x2="95.59" y2="361.2" stroke="#f0f0f0" stroke-width="0.6"/>
<line x1="123.68" y1="337.2" x2="123.68" y2="361.2" stroke="#f0f0f0" stroke-width="0.6"/>
<line x1="151.77" y1="337.2" x2="151.77" y2="361.2" stroke="#f0f0f0" stroke-width="0.6"/>
<line x1="179.86" y1="337.2" x2="179.86" y2="361.2" stroke="#f0f0f0" stroke-width="0.6"/>
<line x1="207.95" y1="337.2" x2="207.95" y2="361.2" stroke="#f0f0f0" stroke-width="0.6"/>
<line x1="236.04" y1="337.2" x2="236.04" y2="361.2" stroke="#f0f0f0" stroke-width="0.6"/>
<line x1="264.13" y1="337.2" x2="264.13" y2="361.2" stroke="#f0f0f0" stroke-width="0.6"/>
<line x1="292.22" y1="337.2" x2="292.22" y2="361.2" stroke="#f0f0f0" stroke-width="0.6"/>
<line x1="64.5" y1="361.2" x2="300.22" y2="361.2" stroke="#f0f0f0" stroke-width="0.6"/>
<rect x="55.85" y="338.3" width="5.9" height="5.6" fill="#4e79a7" stroke="#999" stroke-width="0.7"/>
<rect x="67.5" y="338.2" width="2.81" height="5.6" fill="#59a14f"/>
<rect x="70.31" y="338.2" width="2.81" height="5.6" fill="#ff9d9a"/>
<rect x="73.12" y="338.2" width="227.53" height="5.6" fill="#b07aa1"/>
<rect x="300.65" y="338.2" width="2.81" height="5.6" fill="#d3d3d3"/>
<rect x="55.85" y="346.2" width="5.9" height="5.6" fill="#499894" stroke="#999" stroke-width="0.7"/>
<rect x="67.5" y="346.1" width="2.81" height="5.6" fill="#499894"/>
<rect x="70.31" y="346.1" width="5.62" height="5.6" fill="#b07aa1"/>
<rect x="55.85" y="354.2" width="5.9" height="5.6" fill="#a0cbe8" stroke="#999" stroke-width="0.7"/>
<rect x="67.5" y="354.1" width="2.81" height="5.6" fill="#b07aa1"/>
<text x="69.3" y="372.8" font-size="10.2" text-anchor="middle" fill="#222">0</text>
<text x="97.1" y="372.8" font-size="10.2" text-anchor="middle" fill="#222">10</text>
<text x="124.9" y="372.8" font-size="10.2" text-anchor="middle" fill="#222">20</text>
<text x="152.7" y="372.8" font-size="10.2" text-anchor="middle" fill="#222">30</text>
<text x="180.5" y="372.8" font-size="10.2" text-anchor="middle" fill="#222">40</text>
<text x="208.3" y="372.8" font-size="10.2" text-anchor="middle" fill="#222">50</text>
<text x="236.1" y="372.8" font-size="10.2" text-anchor="middle" fill="#222">60</text>
<text x="263.9" y="372.8" font-size="10.2" text-anchor="middle" fill="#222">70</text>
<text x="291.7" y="372.8" font-size="10.2" text-anchor="middle" fill="#222">80</text>
<text x="51.2" y="346.6" font-size="8.6" text-anchor="end" fill="#222">Resistance</text>
<text x="51.2" y="357.1" font-size="8.6" text-anchor="end" fill="#222">profile</text>
<text x="180.6" y="388.3" font-size="10.5" text-anchor="middle" fill="#222">Number of genome</text>
<line x1="407.9" y1="336.9" x2="407.9" y2="361.3" stroke="#f0f0f0" stroke-width="0.6"/>
<line x1="438.6" y1="336.9" x2="438.6" y2="361.3" stroke="#f0f0f0" stroke-width="0.6"/>
<line x1="469.3" y1="336.9" x2="469.3" y2="361.3" stroke="#f0f0f0" stroke-width="0.6"/>
<line x1="500" y1="336.9" x2="500" y2="361.3" stroke="#f0f0f0" stroke-width="0.6"/>
<line x1="530.7" y1="336.9" x2="530.7" y2="361.3" stroke="#f0f0f0" stroke-width="0.6"/>
<line x1="561.4" y1="336.9" x2="561.4" y2="361.3" stroke="#f0f0f0" stroke-width="0.6"/>
<line x1="592.1" y1="336.9" x2="592.1" y2="361.3" stroke="#f0f0f0" stroke-width="0.6"/>
<line x1="622.8" y1="336.9" x2="622.8" y2="361.3" stroke="#f0f0f0" stroke-width="0.6"/>
<line x1="653.5" y1="336.9" x2="653.5" y2="361.3" stroke="#f0f0f0" stroke-width="0.6"/>
<line x1="404.9" y1="361.3" x2="661.5" y2="361.3" stroke="#f0f0f0" stroke-width="0.6"/>
<rect x="395.75" y="338" width="5.9" height="5.6" fill="#f4a0a8" stroke="#999" stroke-width="0.7"/>
<rect x="407.9" y="337.9" width="153.5" height="5.6" fill="#59a14f"/>
<rect x="561.4" y="337.9" width="27.63" height="5.6" fill="#86bcb6"/>
<rect x="589.03" y="337.9" width="55.26" height="5.6" fill="#d3d3d3"/>
<rect x="395.75" y="346.2" width="5.9" height="5.6" fill="#b07aa1" stroke="#999" stroke-width="0.7"/>
<rect x="407.9" y="346.1" width="3.07" height="5.6" fill="#f1ce63"/>
<rect x="410.97" y="346.1" width="3.07" height="5.6" fill="#b6992d"/>
<rect x="414.04" y="346.1" width="150.43" height="5.6" fill="#59a14f"/>
<rect x="564.47" y="346.1" width="15.35" height="5.6" fill="#86bcb6"/>
<rect x="579.82" y="346.1" width="9.21" height="5.6" fill="#d3d3d3"/>
<rect x="395.75" y="354.3" width="5.9" height="5.6" fill="#9c7561" stroke="#999" stroke-width="0.7"/>
<rect x="407.9" y="354.2" width="3.07" height="5.6" fill="#9d7660"/>
<rect x="410.97" y="354.2" width="21.49" height="5.6" fill="#59a14f"/>
<rect x="432.46" y="354.2" width="24.56" height="5.6" fill="#86bcb6"/>
<rect x="457.02" y="354.2" width="29.16" height="5.6" fill="#d3d3d3"/>
<text x="409.5" y="372.8" font-size="10.2" text-anchor="middle" fill="#222">0</text>
<text x="439.9" y="372.8" font-size="10.2" text-anchor="middle" fill="#222">10</text>
<text x="470.3" y="372.8" font-size="10.2" text-anchor="middle" fill="#222">20</text>
<text x="500.7" y="372.8" font-size="10.2" text-anchor="middle" fill="#222">30</text>
<text x="531.1" y="372.8" font-size="10.2" text-anchor="middle" fill="#222">40</text>
<text x="561.5" y="372.8" font-size="10.2" text-anchor="middle" fill="#222">50</text>
<text x="591.9" y="372.8" font-size="10.2" text-anchor="middle" fill="#222">60</text>
<text x="622.3" y="372.8" font-size="10.2" text-anchor="middle" fill="#222">70</text>
<text x="652.7" y="372.8" font-size="10.2" text-anchor="middle" fill="#222">80</text>
<text x="391.2" y="346.6" font-size="8.6" text-anchor="end" fill="#222">Resistance</text>
<text x="391.2" y="357.1" font-size="8.6" text-anchor="end" fill="#222">profile</text>
<text x="531.4" y="388.3" font-size="10.5" text-anchor="middle" fill="#222">Number of genome</text>
<line x1="67.3" y1="753.9" x2="67.3" y2="786.5" stroke="#f0f0f0" stroke-width="0.6"/>
<line x1="87.05" y1="753.9" x2="87.05" y2="786.5" stroke="#f0f0f0" stroke-width="0.6"/>
<line x1="106.8" y1="753.9" x2="106.8" y2="786.5" stroke="#f0f0f0" stroke-width="0.6"/>
<line x1="126.55" y1="753.9" x2="126.55" y2="786.5" stroke="#f0f0f0" stroke-width="0.6"/>
<line x1="146.3" y1="753.9" x2="146.3" y2="786.5" stroke="#f0f0f0" stroke-width="0.6"/>
<line x1="166.05" y1="753.9" x2="166.05" y2="786.5" stroke="#f0f0f0" stroke-width="0.6"/>
<line x1="185.8" y1="753.9" x2="185.8" y2="786.5" stroke="#f0f0f0" stroke-width="0.6"/>
<line x1="205.55" y1="753.9" x2="205.55" y2="786.5" stroke="#f0f0f0" stroke-width="0.6"/>
<line x1="225.3" y1="753.9" x2="225.3" y2="786.5" stroke="#f0f0f0" stroke-width="0.6"/>
<line x1="245.05" y1="753.9" x2="245.05" y2="786.5" stroke="#f0f0f0" stroke-width="0.6"/>
<line x1="264.8" y1="753.9" x2="264.8" y2="786.5" stroke="#f0f0f0" stroke-width="0.6"/>
<line x1="284.55" y1="753.9" x2="284.55" y2="786.5" stroke="#f0f0f0" stroke-width="0.6"/>
<line x1="304.3" y1="753.9" x2="304.3" y2="786.5" stroke="#f0f0f0" stroke-width="0.6"/>
<line x1="64.3" y1="786.5" x2="312.3" y2="786.5" stroke="#f0f0f0" stroke-width="0.6"/>
<rect x="55.75" y="755" width="5.9" height="5.6" fill="#e15759" stroke="#999" stroke-width="0.7"/>
<rect x="67.3" y="754.9" width="201.45" height="5.6" fill="#4e79a7"/>
<rect x="268.75" y="754.9" width="3.95" height="5.6" fill="#d7b5a6"/>
<rect x="272.7" y="754.9" width="31.6" height="5.6" fill="#d3d3d3"/>
<rect x="55.75" y="763.2" width="5.9" height="5.6" fill="#edc948" stroke="#999" stroke-width="0.7"/>
<rect x="67.3" y="763.1" width="63.2" height="5.6" fill="#d3d3d3"/>
<rect x="55.75" y="771.3" width="5.9" height="5.6" fill="#f28e2b" stroke="#999" stroke-width="0.7"/>
<rect x="67.3" y="771.2" width="23.7" height="5.6" fill="#4e79a7"/>
<rect x="91" y="771.2" width="3.95" height="5.6" fill="#d7b5a6"/>
<rect x="94.95" y="771.2" width="15.8" height="5.6" fill="#d3d3d3"/>
<rect x="55.75" y="779.5" width="5.9" height="5.6" fill="#ffbe7d" stroke="#999" stroke-width="0.7"/>
<rect x="67.3" y="779.4" width="3.95" height="5.6" fill="#d3d3d3"/>
<text x="68.9" y="796.2" font-size="10.2" text-anchor="middle" fill="#222">0</text>
<text x="88.5" y="796.2" font-size="10.2" text-anchor="middle" fill="#222">5</text>
<text x="108.1" y="796.2" font-size="10.2" text-anchor="middle" fill="#222">10</text>
<text x="127.7" y="796.2" font-size="10.2" text-anchor="middle" fill="#222">15</text>
<text x="147.3" y="796.2" font-size="10.2" text-anchor="middle" fill="#222">20</text>
<text x="166.9" y="796.2" font-size="10.2" text-anchor="middle" fill="#222">25</text>
<text x="186.5" y="796.2" font-size="10.2" text-anchor="middle" fill="#222">30</text>
<text x="206.1" y="796.2" font-size="10.2" text-anchor="middle" fill="#222">35</text>
<text x="225.7" y="796.2" font-size="10.2" text-anchor="middle" fill="#222">40</text>
<text x="245.3" y="796.2" font-size="10.2" text-anchor="middle" fill="#222">45</text>
<text x="264.9" y="796.2" font-size="10.2" text-anchor="middle" fill="#222">50</text>
<text x="284.5" y="796.2" font-size="10.2" text-anchor="middle" fill="#222">55</text>
<text x="304.1" y="796.2" font-size="10.2" text-anchor="middle" fill="#222">60</text>
<text x="51.2" y="767" font-size="8.6" text-anchor="end" fill="#222">Resistance</text>
<text x="51.2" y="777.5" font-size="8.6" text-anchor="end" fill="#222">profile</text>
<text x="189.4" y="812" font-size="10.5" text-anchor="middle" fill="#222">Number of genome</text>
<line x1="407.8" y1="754.9" x2="407.8" y2="779.4" stroke="#f0f0f0" stroke-width="0.6"/>
<line x1="431.46" y1="754.9" x2="431.46" y2="779.4" stroke="#f0f0f0" stroke-width="0.6"/>
<line x1="455.12" y1="754.9" x2="455.12" y2="779.4" stroke="#f0f0f0" stroke-width="0.6"/>
<line x1="478.78" y1="754.9" x2="478.78" y2="779.4" stroke="#f0f0f0" stroke-width="0.6"/>
<line x1="502.44" y1="754.9" x2="502.44" y2="779.4" stroke="#f0f0f0" stroke-width="0.6"/>
<line x1="526.1" y1="754.9" x2="526.1" y2="779.4" stroke="#f0f0f0" stroke-width="0.6"/>
<line x1="549.76" y1="754.9" x2="549.76" y2="779.4" stroke="#f0f0f0" stroke-width="0.6"/>
<line x1="573.42" y1="754.9" x2="573.42" y2="779.4" stroke="#f0f0f0" stroke-width="0.6"/>
<line x1="597.08" y1="754.9" x2="597.08" y2="779.4" stroke="#f0f0f0" stroke-width="0.6"/>
<line x1="620.74" y1="754.9" x2="620.74" y2="779.4" stroke="#f0f0f0" stroke-width="0.6"/>
<line x1="644.4" y1="754.9" x2="644.4" y2="779.4" stroke="#f0f0f0" stroke-width="0.6"/>
<line x1="404.8" y1="779.4" x2="652.4" y2="779.4" stroke="#f0f0f0" stroke-width="0.6"/>
<rect x="395.75" y="756" width="5.9" height="5.6" fill="#f4a0a8" stroke="#999" stroke-width="0.7"/>
<rect x="407.8" y="755.9" width="59.15" height="5.6" fill="#e15759"/>
<rect x="466.95" y="755.9" width="141.96" height="5.6" fill="#59a14f"/>
<rect x="608.91" y="755.9" width="11.83" height="5.6" fill="#86bcb6"/>
<rect x="620.74" y="755.9" width="23.66" height="5.6" fill="#d3d3d3"/>
<rect x="395.75" y="764.2" width="5.9" height="5.6" fill="#b07aa1" stroke="#999" stroke-width="0.7"/>
<rect x="407.8" y="764.1" width="141.96" height="5.6" fill="#59a14f"/>
<rect x="549.76" y="764.1" width="35.49" height="5.6" fill="#86bcb6"/>
<rect x="585.25" y="764.1" width="35.49" height="5.6" fill="#d3d3d3"/>
<rect x="395.75" y="772.4" width="5.9" height="5.6" fill="#9c7561" stroke="#999" stroke-width="0.7"/>
<rect x="407.8" y="772.3" width="165.62" height="5.6" fill="#59a14f"/>
<rect x="573.42" y="772.3" width="23.66" height="5.6" fill="#8cd17d"/>
<rect x="597.08" y="772.3" width="11.83" height="5.6" fill="#d3d3d3"/>
<text x="408" y="790.5" font-size="10.2" text-anchor="middle" fill="#222">0</text>
<text x="431.66" y="790.5" font-size="10.2" text-anchor="middle" fill="#222">2</text>
<text x="455.32" y="790.5" font-size="10.2" text-anchor="middle" fill="#222">4</text>
<text x="478.98" y="790.5" font-size="10.2" text-anchor="middle" fill="#222">6</text>
<text x="502.64" y="790.5" font-size="10.2" text-anchor="middle" fill="#222">8</text>
<text x="526.3" y="790.5" font-size="10.2" text-anchor="middle" fill="#222">10</text>
<text x="549.96" y="790.5" font-size="10.2" text-anchor="middle" fill="#222">12</text>
<text x="573.62" y="790.5" font-size="10.2" text-anchor="middle" fill="#222">14</text>
<text x="597.28" y="790.5" font-size="10.2" text-anchor="middle" fill="#222">16</text>
<text x="620.94" y="790.5" font-size="10.2" text-anchor="middle" fill="#222">18</text>
<text x="644.6" y="790.5" font-size="10.2" text-anchor="middle" fill="#222">20</text>
<text x="391.2" y="763.5" font-size="8.6" text-anchor="end" fill="#222">Resistance</text>
<text x="391.2" y="774" font-size="8.6" text-anchor="end" fill="#222">profile</text>
<text x="527.5" y="805.6" font-size="10.5" text-anchor="middle" fill="#222">Number of genome</text>
<text x="10.5" y="841.3" font-size="12.3" text-anchor="start" fill="#111">Resistance profile (tree rings and piecharts legend)</text>
<rect x="10.6" y="852.7" width="9.4" height="9" fill="#4e79a7" stroke="#a0a0a0" stroke-width="0.9"/>
<text x="26" y="860.9" font-size="10.65" text-anchor="start" fill="#111">CAZ CRO IPM SAM TZP GEN AMK CIP SXT (RP-1)</text>
<rect x="10.6" y="868.1" width="9.4" height="9" fill="#499894" stroke="#a0a0a0" stroke-width="0.9"/>
<text x="26" y="876.3" font-size="10.65" text-anchor="start" fill="#111">CAZ CRO IPM SAM TZP GEN CIP</text>
<rect x="10.6" y="883.5" width="9.4" height="9" fill="#a0cbe8" stroke="#a0a0a0" stroke-width="0.9"/>
<text x="26" y="891.7" font-size="10.65" text-anchor="start" fill="#111">CAZ CRO IPM SAM TZP GEN CIP SXT (RP-2)</text>
<rect x="10.6" y="898.9" width="9.4" height="9" fill="#e15759" stroke="#a0a0a0" stroke-width="0.9"/>
<text x="26" y="907.1" font-size="10.65" text-anchor="start" fill="#111">CAZ FEP IPM MEM TZP GEN TOB AMK CIP (RP-3)</text>
<rect x="10.6" y="914.3" width="9.4" height="9" fill="#f28e2b" stroke="#a0a0a0" stroke-width="0.9"/>
<text x="26" y="922.5" font-size="10.65" text-anchor="start" fill="#111">CAZ FEP IPM MEM TZP GEN TOB CIP (RP-4)</text>
<rect x="10.6" y="929.7" width="9.4" height="9" fill="#ffbe7d" stroke="#a0a0a0" stroke-width="0.9"/>
<text x="26" y="937.9" font-size="10.65" text-anchor="start" fill="#111">IPM</text>
<rect x="10.6" y="945.1" width="9.4" height="9" fill="#edc948" stroke="#a0a0a0" stroke-width="0.9"/>
<text x="26" y="953.3" font-size="10.65" text-anchor="start" fill="#111">IPM MEM</text>
<rect x="10.6" y="960.5" width="9.4" height="9" fill="#f599a4" stroke="#a0a0a0" stroke-width="0.9"/>
<text x="26" y="968.7" font-size="10.65" text-anchor="start" fill="#111">AMP FOX CAZ CRO FEP IPM AMC TZP CIP SXT (RP-5)</text>
<rect x="10.6" y="975.9" width="9.4" height="9" fill="#b07aa1" stroke="#a0a0a0" stroke-width="0.9"/>
<text x="26" y="984.1" font-size="10.65" text-anchor="start" fill="#111">AMP FOX CAZ CRO FEP IPM AMC TZP GEN AMK CIP SXT (RP-6)</text>
<rect x="10.6" y="991.3" width="9.4" height="9" fill="#9c7561" stroke="#a0a0a0" stroke-width="0.9"/>
<text x="26" y="999.5" font-size="10.65" text-anchor="start" fill="#111">AMP FOX CAZ CRO FEP IPM AMC TZP GEN CIP SXT (RP-7)</text>
<rect x="10.6" y="1006.7" width="9.4" height="9" fill="#d3d3d3" stroke="#a0a0a0" stroke-width="0.9"/>
<text x="26" y="1014.9" font-size="10.65" text-anchor="start" fill="#111">Other carpenem resistance profiles</text>
<rect x="10.6" y="1022.1" width="9.4" height="9" fill="#fff" stroke="#a0a0a0" stroke-width="0.9"/>
<text x="26" y="1030.3" font-size="10.65" text-anchor="start" fill="#111">Other resistance profiles</text>
<text x="393.4" y="841" font-size="12.3" text-anchor="start" fill="#111">Carbapenemase genes (barchart legend)</text>
<rect x="393.4" y="851.6" width="10.2" height="10" fill="#b07aa1"/>
<text x="409.8" y="860.4" font-size="10.6" text-anchor="start" fill="#111"><tspan font-style="italic">bla</tspan>OXA-23</text>
<rect x="393.4" y="866.74" width="10.2" height="10" fill="#ff9d9a"/>
<text x="409.8" y="875.54" font-size="10.6" text-anchor="start" fill="#111"><tspan font-style="italic">bla</tspan>OXA-23 + blaOXA-235</text>
<rect x="393.4" y="881.88" width="10.2" height="10" fill="#499894"/>
<text x="409.8" y="890.68" font-size="10.6" text-anchor="start" fill="#111"><tspan font-style="italic">bla</tspan>NDM-6</text>
<rect x="393.4" y="897.02" width="10.2" height="10" fill="#86bcb6"/>
<text x="409.8" y="905.82" font-size="10.6" text-anchor="start" fill="#111"><tspan font-style="italic">bla</tspan>NDM-7</text>
<rect x="393.4" y="912.16" width="10.2" height="10" fill="#8cd17d"/>
<text x="409.8" y="920.96" font-size="10.6" text-anchor="start" fill="#111"><tspan font-style="italic">bla</tspan>NDM-4</text>
<rect x="393.4" y="927.3" width="10.2" height="10" fill="#59a14f"/>
<text x="409.8" y="936.1" font-size="10.6" text-anchor="start" fill="#111"><tspan font-style="italic">bla</tspan>NDM-1</text>
<rect x="393.4" y="942.44" width="10.2" height="10" fill="#e15759"/>
<text x="409.8" y="951.24" font-size="10.6" text-anchor="start" fill="#111"><tspan font-style="italic">bla</tspan>NDM-1 + <tspan font-style="italic">bla</tspan>OXA-181</text>
<rect x="393.4" y="957.58" width="10.2" height="10" fill="#f1ce63"/>
<text x="409.8" y="966.38" font-size="10.6" text-anchor="start" fill="#111"><tspan font-style="italic">bla</tspan>NDM-1 + <tspan font-style="italic">bla</tspan>IMP-26</text>
<rect x="393.4" y="972.72" width="10.2" height="10" fill="#9d7660"/>
<text x="409.8" y="981.52" font-size="10.6" text-anchor="start" fill="#111"><tspan font-style="italic">bla</tspan>IMP-4</text>
<rect x="393.4" y="987.86" width="10.2" height="10" fill="#b6992d"/>
<text x="409.8" y="996.66" font-size="10.6" text-anchor="start" fill="#111"><tspan font-style="italic">bla</tspan>KPC-2</text>
<rect x="393.4" y="1003" width="10.2" height="10" fill="#d7b5a6"/>
<text x="409.8" y="1011.8" font-size="10.6" text-anchor="start" fill="#111"><tspan font-style="italic">bla</tspan>IMP-26</text>
<rect x="393.4" y="1018.14" width="10.2" height="10" fill="#a0cbe8"/>
<text x="409.8" y="1026.94" font-size="10.6" text-anchor="start" fill="#111"><tspan font-style="italic">bla</tspan>VIM-6</text>
<rect x="393.4" y="1033.28" width="10.2" height="10" fill="#4e79a7"/>
<text x="409.8" y="1042.08" font-size="10.6" text-anchor="start" fill="#111"><tspan font-style="italic">bla</tspan>VIM-2</text>
<rect x="393.4" y="1048.42" width="10.2" height="10" fill="#d3d3d3"/>
<text x="409.8" y="1057.22" font-size="10.6" text-anchor="start" fill="#111">No carbapenemase gene found</text>
<text x="148.4" y="142.6" font-size="12.3" text-anchor="middle" fill="#111" font-style="italic">A. baumannii</text>
<text x="148.4" y="157.6" font-size="12.3" text-anchor="middle" fill="#111">(<tspan font-style="italic">N</tspan> = 108)</text>
<path d="M147.4 174.6L44.19 189.66M43.44 166.24A104.3 104.3 0 0 0 50.56 213.33M43.44 166.24L35.76 165.62M46.23 126.56A112 112 0 0 0 39.96 206.22M39.96 206.22L34.39 207.86M46.23 126.56L41.8 124.46M50.56 213.33L38.86 218.01M263.33 170.55A116 116 0 0 0 46.94 116.6M126.82 57.9A118.5 118.5 0 0 0 32.42 203.27M93.65 73.5A114.5 114.5 0 0 0 46.3 120.85M147.4 174.6L247.4 173.73M133.18 181.94L46.54 226.66M45.21 224A113.5 113.5 0 0 0 47.94 229.28M134.82 182.77L51.79 236.69M50.72 235.01A114 114 0 0 0 52.89 238.35M134.82 182.77L51.79 236.69M136.09 182.85L57.71 240M136.66 183.58L61.94 246.06M137.03 184L63.99 250.24M138.34 183.92L67.92 256.33M138.94 184.47L72.11 262.45M140.21 184.21L80.31 264.28M140.76 184.6L86.36 266.47M141.88 184.12L93.54 267.52M82.96 228.48A84 84 0 0 0 85.17 231.02M109.33 219.02A58.5 58.5 0 0 0 112.36 221.44M125.18 186.07A25 25 0 0 0 126.43 188.22M128.52 197.91A30 30 0 0 0 130.8 199.59M100.78 265.32A102 102 0 0 0 201.45 261.1M147.4 174.6L229.85 187.81M227.25 199.01A83.5 83.5 0 0 0 230.58 181.88M230.58 181.88L243.03 182.97M242.68 186.3A96 96 0 0 0 243.39 176.28M242.68 186.3L254.59 187.76M243.39 176.28L255.38 176.48M255.38 176.48L265.38 176.66M227.25 199.01L245.52 204.6M147.4 174.6L173.68 192.86M170.03 197.23A32 32 0 0 0 176.21 188.53M176.21 188.53L242.2 220.43M170.03 197.23L214.58 241.78M197.74 255.16A95 95 0 0 0 220.17 235.66M220.17 235.66L231.66 245.31M205.56 260.82A104 104 0 0 0 219.64 249.41M205.56 260.82L207.79 264.14M219.64 249.41L222.42 252.29M197.74 255.16L201.45 261.1" fill="none" stroke="#4a4a4a" stroke-width="0.75"/>
<text x="202.5" y="64" font-size="9.6" text-anchor="middle" dominant-baseline="central" fill="#555" transform="rotate(29.4 202.5 64)">ST195</text>
<text x="47.9" y="99.2" font-size="9.6" text-anchor="middle" dominant-baseline="central" fill="#555" transform="rotate(-50 47.9 99.2)">ST208</text>
<text x="24.5" y="189" font-size="9.6" text-anchor="middle" dominant-baseline="central" fill="#555" transform="rotate(-88 24.5 189)">ST369</text>
<text x="162" y="286.5" font-size="9.6" text-anchor="middle" dominant-baseline="central" fill="#555" transform="rotate(-7.3 162 286.5)">Novel ST</text>
<text x="235.2" y="246.2" font-size="9.6" text-anchor="middle" dominant-baseline="central" fill="#555" transform="rotate(-48.3 235.2 246.2)">ST 449</text>
<text x="257.4" y="204.1" font-size="9.6" text-anchor="middle" dominant-baseline="central" fill="#555" transform="rotate(-64.5 257.4 204.1)">ST642</text>
<path d="M488.6 177L567.73 190.67M565.01 201.68A80.3 80.3 0 0 0 568.87 179.24M568.87 179.24L606.55 180.29M606.31 185.23A118 118 0 0 0 606.59 178.24M606.31 185.23L610.3 185.51M606.59 178.24L610.59 178.28M608.24 195.09A121 121 0 0 0 609.43 183.33M608.24 195.09L614.17 195.99M609.43 183.33L615.43 183.65M607.94 183.25A119.5 119.5 0 0 0 608.08 179.09M607.94 183.25L612.43 183.49M608.08 179.09L612.58 179.16M565.01 201.68L597.08 212.04M578.43 247.19A114 114 0 0 0 600.11 200.7M601.07 209.25A117 117 0 0 0 603.45 199.32M601.07 209.25L607.8 211.18M603.45 199.32L610.32 200.66M488.6 177L504.54 203.01M497.67 206.12A30.5 30.5 0 0 0 510.28 198.45M497.87 206.06L518.7 271.31M510.54 198.19L579.24 264.53M577.7 266.1A126 126 0 0 0 582.24 261.31M577.7 266.1L580.52 268.92M582.24 261.31L585.21 263.99M389.6 177A99 99 0 0 0 519.19 271.15M474.82 78.96A99 99 0 0 0 389.6 177M462.67 80.21A100.2 100.2 0 0 0 512.84 274.22M469.93 71.13A107.5 107.5 0 0 0 382.15 162.04M595.09 175.51A106.5 106.5 0 0 0 473.78 71.54M475.1 80.94L473.78 71.54M486.86 77.52A99.5 99.5 0 0 0 474.75 78.47M486.86 77.52L486.75 71.02M474.75 78.47L473.85 72.03M485.88 73.04A104 104 0 0 0 477.73 73.57M485.88 73.04L485.8 70.04M477.73 73.57L477.42 70.59M519.66 272.58A100.5 100.5 0 0 0 559.66 248.06M524.17 274.73A104 104 0 0 0 560.84 251.81M559.66 248.06L564.97 253.37M428.65 94.48A102 102 0 0 0 424.41 97.73M428.65 94.48L426.29 91.24M424.41 97.73L421.89 94.62M422.07 97.71A103.5 103.5 0 0 0 418.01 101.3M422.07 97.71L419.82 95.03M418.01 101.3L415.63 98.75M416.48 104.88A102 102 0 0 0 411.62 110.08M416.48 104.88L413.29 101.69M411.62 110.08L408.22 107.13M410.11 113.44A101 101 0 0 0 407.41 116.92M410.11 113.44L406.22 110.29M407.41 116.92L403.39 113.95M404.13 118.94A102.5 102.5 0 0 0 399.83 125.75M404.13 118.94L400.42 116.39M399.83 125.75L395.94 123.5M398.98 129.35A101.5 101.5 0 0 0 396.61 134.1M398.98 129.35L395.01 127.24M396.61 134.1L392.53 132.2M393.79 136.75A103 103 0 0 0 392.12 140.93M393.79 136.75L389.65 135M392.12 140.93L387.91 139.35M381.26 195.93A109 109 0 0 0 434.1 271.4M387.11 140.06A108 108 0 0 0 381.65 192.03M388.34 198.31A102.5 102.5 0 0 0 389.23 202.14M388.34 198.31L382.96 199.45M389.23 202.14L383.9 203.49M389.59 203.53A102.5 102.5 0 0 0 390.68 207.31M389.59 203.53L384.28 204.95M390.68 207.31L385.43 208.94M391.12 208.67A102.5 102.5 0 0 0 392.4 212.39M391.12 208.67L385.89 210.37M392.4 212.39L387.24 214.29M392.91 213.73A102.5 102.5 0 0 0 394.39 217.38M392.91 213.73L387.77 215.7M394.39 217.38L389.33 219.55M394.96 218.69A102.5 102.5 0 0 0 396.63 222.25M394.96 218.69L389.94 220.93M396.63 222.25L391.7 224.68M397.27 223.53A102.5 102.5 0 0 0 399.13 227.01M397.27 223.53L392.37 226.03M399.13 227.01L394.32 229.69M399.83 228.25A102.5 102.5 0 0 0 401.87 231.62M399.83 228.25L395.07 231M401.87 231.62L397.21 234.55M402.64 232.83A102.5 102.5 0 0 0 404.84 236.08M402.64 232.83L398.02 235.82M404.84 236.08L400.35 239.25M405.68 237.25A102.5 102.5 0 0 0 408.05 240.39M405.68 237.25L401.23 240.48M408.05 240.39L403.73 243.79M408.94 241.51A102.5 102.5 0 0 0 411.48 244.52M408.94 241.51L404.67 244.97M411.48 244.52L407.34 248.14M412.43 245.59A102.5 102.5 0 0 0 415.12 248.46M412.43 245.59L408.34 249.27M415.12 248.46L411.17 252.29M416.12 249.48A102.5 102.5 0 0 0 418.96 252.21M416.12 249.48L412.23 253.37M418.96 252.21L415.22 256.24M420.01 253.17A102.5 102.5 0 0 0 422.99 255.75M420.01 253.17L416.33 257.26M422.99 255.75L419.47 259.97M424.09 256.66A102.5 102.5 0 0 0 427.2 259.07M424.09 256.66L420.63 260.93M427.2 259.07L423.91 263.48M428.35 259.92A102.5 102.5 0 0 0 431.58 262.18M428.35 259.92L425.12 264.37M431.58 262.18L428.52 266.75M432.77 262.96A102.5 102.5 0 0 0 436.12 265.04M432.77 262.96L429.78 267.58M436.12 265.04L433.3 269.77M485.01 279.94A103 103 0 0 0 492.19 279.94M485.01 279.94L484.87 283.93M492.19 279.94L492.33 283.93M495.85 280.75A104 104 0 0 0 503.07 279.99M495.85 280.75L496.13 284.74M503.07 279.99L503.63 283.95M463.92 275.97A102 102 0 0 0 470.89 277.45M463.92 275.97L462.71 280.82M470.89 277.45L470.02 282.37M472.41 279.23A103.5 103.5 0 0 0 479.58 280.11M472.41 279.23L471.71 283.67M479.58 280.11L479.19 284.59M601.74 203.54A116.21 116.21 0 0 0 602.68 199.17M601.74 203.54L610.43 205.57M602.68 199.17L611.43 200.88M600.86 208.55A116.61 116.61 0 0 0 601.99 204.22M600.86 208.55L609.24 210.91M601.99 204.22L610.45 206.25M600.11 213.66A117.38 117.38 0 0 0 601.43 209.35M600.11 213.66L606.11 215.63M601.43 209.35L607.5 211.1M596.68 217.84A115.54 115.54 0 0 0 598.17 213.66M596.68 217.84L606.48 221.54M598.17 213.66L608.1 216.98M595.48 222.81A116.28 116.28 0 0 0 597.15 218.67M595.48 222.81L602.76 225.93M597.15 218.67L604.55 221.51M594.91 229.31A118.49 118.49 0 0 0 596.84 225.19M594.91 229.31L600.68 232.15M596.84 225.19L602.71 227.81M591.61 234.57A118.01 118.01 0 0 0 593.75 230.58M591.61 234.57L597.65 237.95M593.75 230.58L599.91 233.72M587.96 239.57A117.42 117.42 0 0 0 590.29 235.71M587.96 239.57L593.49 243.05M590.29 235.71L595.95 238.98M583.94 245.51A117.4 117.4 0 0 0 586.5 241.8M583.94 245.51L591.01 250.59M586.5 241.8L593.76 246.6M599.86 221.95A120 120 0 0 0 606.4 199.9M582.45 245.18A116 116 0 0 0 596.15 220.45M581.59 249.65A118 118 0 0 0 585.26 244.68M581.59 249.65L587.89 254.57M585.26 244.68L591.81 249.27M556.97 255.37A104 104 0 0 0 560.19 252.44M556.97 255.37L561.24 260.27M560.19 252.44L564.66 257.15M552.77 258.84A104 104 0 0 0 556.14 256.08M552.77 258.84L556.78 263.96M556.14 256.08L560.36 261.02M548.4 262.09A104 104 0 0 0 551.91 259.51M548.4 262.09L552.14 267.41M551.91 259.51L555.87 264.67M543.09 265.58A104 104 0 0 0 546.76 263.22M543.09 265.58L546.5 271.12M546.76 263.22L550.39 268.61M537.59 268.74A104 104 0 0 0 541.38 266.61M537.59 268.74L540.65 274.48M541.38 266.61L544.68 272.21M523.16 271.95L525.18 277.51M524.92 271.61L525.96 274.33M526.63 271.12L528.44 275.62M527.91 269.61L529.28 272.85M529.98 269.94L531.67 273.74M531.47 268.93L534.04 274.44M533.06 268.16L535.81 273.79M534.36 266.8L537.27 272.52M535.96 266.08L539.18 272.13M506.27 277.21L506.73 279.8M507.56 275.46L508.43 279.98M509.44 276.78L510.22 280.51M510.86 275.78L511.73 279.63M512.35 275.18L513.42 279.58M513.81 274.49L515.23 279.95M515.47 274.54L517.18 280.75M517.05 274.29L518.83 280.39M518.68 274.16L520.53 280.14M420.79 252.31L417.9 255.52M421.73 253.65L417.04 259.03M422.89 254.76L419.36 258.94M424.36 255.49L421.56 258.91M425.45 256.67L421.95 261.09M427.38 256.79L424.53 260.5M427.96 258.65L423.64 264.47M430.14 258.35L425.46 264.87M431.06 259.79L428.33 263.72M432.5 260.49L428.32 266.7M433.19 262.33L431.32 265.21M434.81 262.75L432.71 266.1M436.05 263.77L433.52 267.95M437.26 264.86L433.65 271.04M439.01 265L435.09 271.96M440.59 265.43L438.35 269.55M441.71 266.68L439.9 270.16M443.49 266.69L440.69 272.26M444.55 268.13L442.63 272.1M446.46 267.78L442.93 275.39M447.67 268.93L444.33 276.43M448.66 270.63L446.81 274.97M450.47 270.44L448.14 276.14M451.81 271.37L449.59 277.05M453.35 271.78L451.14 277.74M454.59 273.04L452.87 277.89M456.43 272.59L454.19 279.25M458.05 272.72L456.31 278.18" fill="none" stroke="#444" stroke-width="0.6"/>
<text x="444.8" y="71.8" font-size="9.6" text-anchor="middle" dominant-baseline="central" fill="#555" transform="rotate(-26.6 444.8 71.8)">ST340</text>
<text x="386" y="123.4" font-size="9.6" text-anchor="middle" dominant-baseline="central" fill="#555" transform="rotate(-58 386 123.4)">ST307</text>
<text x="373.6" y="175.5" font-size="9.6" text-anchor="middle" dominant-baseline="central" fill="#555" transform="rotate(-86 373.6 175.5)">CG17/20</text>
<text x="479.8" y="294.5" font-size="9.6" text-anchor="middle" dominant-baseline="central" fill="#555" transform="rotate(4 479.8 294.5)">CG14/15</text>
<text x="532.7" y="287" font-size="9.6" text-anchor="middle" dominant-baseline="central" fill="#555" transform="rotate(-22.5 532.7 287)">ST101</text>
<text x="563.5" y="89.5" font-size="9.6" text-anchor="middle" dominant-baseline="central" fill="#555" transform="rotate(39.5 563.5 89.5)">CG147</text>
<text x="540.8" y="179.9" font-size="9.6" text-anchor="middle" dominant-baseline="central" fill="#555" transform="rotate(8 540.8 179.9)">KpII</text>
<text x="527.5" y="206" font-size="9.6" text-anchor="middle" dominant-baseline="central" fill="#555" transform="rotate(43 527.5 206)">KpIII</text>
<text x="509.5" y="218.4" font-size="9.6" text-anchor="middle" dominant-baseline="central" fill="#555" transform="rotate(70 509.5 218.4)">KpI</text>
<text x="491.8" y="131.9" font-size="12.3" text-anchor="middle" fill="#111" font-style="italic">K. pneumoniae</text>
<text x="491.4" y="146.5" font-size="12.3" text-anchor="middle" fill="#111">complex</text>
<text x="491.5" y="161.1" font-size="12.3" text-anchor="middle" fill="#111">(<tspan font-style="italic">N</tspan> = 340)</text>
<path d="M147.2 593.1L268.1 601.55M267.22 609.97A121.2 121.2 0 0 0 268.36 596.27M267.22 609.97L269.99 610.36M268.36 596.27L271.16 596.35M271.03 599.59A124 124 0 0 0 271.2 594.18M271.03 599.59L274.03 599.75M271.2 594.18L274.2 594.21M270.98 610.5A125 125 0 0 0 271.72 603.99M270.98 610.5L273.95 610.91M271.72 603.99L274.71 604.26M147.2 593.1L226.01 624.94M207.3 653.2A85 85 0 0 0 229.82 613.09M207.3 653.2L211.19 657.09M83.21 657.09A90.5 90.5 0 0 0 216.53 651.27M94.83 667.89A91.3 91.3 0 0 0 208.29 660.95M101.2 672.77A92 92 0 0 0 193.2 672.77M56.99 625.93A96 96 0 0 0 99.2 676.24M64.93 640.6A95 95 0 0 0 92.71 670.92M78.73 653.04L49.01 679.06M138.05 488.5A105 105 0 0 0 52.04 637.47M95.2 503.03A104 104 0 0 0 49.47 628.67M80.8 513.97A103.3 103.3 0 0 0 57.74 644.75M65.23 524.32A107 107 0 0 0 41.83 611.68M56.99 625.93L48.53 629.01M260.65 589.73A113.5 113.5 0 0 0 143.24 479.67M143.54 488.16L143.24 479.67M143.23 479.37A113.8 113.8 0 0 0 58.76 521.48M143.54 488.16L143.23 479.37M121.52 486.14A110 110 0 0 0 115.96 487.63M121.52 486.14L120.63 482.44M115.96 487.63L114.88 483.99M89.22 501.39A108.5 108.5 0 0 0 81.15 507.02M89.22 501.39L86.39 496.91M81.15 507.02L77.92 502.82M75.69 510.84A109 109 0 0 0 71.48 514.69M75.69 510.84L72.54 507.21M71.48 514.69L68.15 511.24M59.83 529.62A108 108 0 0 0 53.67 539.1M59.83 529.62L57.48 527.91M53.67 539.1L51.16 537.65M48.53 557.19A105 105 0 0 0 42.6 583.95M48.53 557.19L41.2 554.52M42.6 583.95L34.83 583.27M91.1 664.91L86.73 670.5M93.02 666.58L88.55 672.65M95.13 668.02L90.83 674.2M97.63 668.85L93.87 674.6M99.28 670.98L95.88 676.52M101.5 672.26L99.03 676.53M103.93 673.12L101.19 678.2M106.15 674.36L103.14 680.33M108.66 675L106.05 680.55M110.86 676.29L107.67 683.59M113.01 677.72L111.06 682.55M115.38 678.67L113.59 683.47M117.84 679.36L116.14 684.34M120.44 679.55L118.04 687.3M122.81 680.47L121.21 686.19M125.07 681.87L123.34 688.79M127.7 681.77L125.97 689.68M130.14 682.53L128.83 689.4M132.7 682.64L131.4 690.65M135.14 683.49L134.12 691.13M137.65 683.99L137.07 689.47M140.23 683.69L139.8 689.31M142.77 683.64L142.5 689.18M145.3 683.88L145.15 690.89M147.83 683.6L147.88 691.13M150.37 683.88L150.58 689.97M152.93 684.24L153.32 690.35M155.43 683.54L156.03 690.14M158 683.66L158.59 688.59M160.56 683.59L161.23 688.14M163.05 682.96L164.31 690.14M165.4 681.77L166.98 689.45M167.95 681.57L169.52 688.25M170.32 680.61L171.76 686.05M172.8 680.09L175.11 687.94M175.23 679.36L177.57 686.56M177.87 679.23L180.35 686.2M180.05 677.8L182.3 683.6M182.47 677.01L185.3 683.74M184.63 675.62L187.79 682.57M187.22 675.16L190.41 681.7M189.15 673.33L192.99 680.69M191.4 672.18L194.53 677.79M193.85 671.36L197.77 677.93M195.87 669.8L200.13 676.5M198.11 668.58L201.41 673.46M200.07 666.94L203.39 671.59M201.96 665.25L205.51 669.92M204.34 664.17L209.23 670.25M205.96 662.14L209.51 666.32M208.42 661.09L212.51 665.63M209.89 658.93L213.89 663.14M211.84 657.29L217.08 662.49M57.03 625.92L50.63 628.25M58.6 628.9L50.54 632.15M59.93 631.96L53.12 634.99M60.61 635.33L55.62 637.77M62.23 638.28L55.06 642.09M63.95 641.17L57.25 645.03M66.12 643.76L60.02 647.58M67.9 646.59L60.95 651.28M69.7 649.41L63.98 653.56M71.16 652.51L65.2 657.16M73.3 655.11L68.4 659.22M75.87 657.33L70.14 662.48M78.16 659.77L73.56 664.21M80.58 662.09L76.39 666.43M83.05 664.35L77.3 670.73M85.2 666.99L80.75 672.29M52.04 548.73L47.04 546.39M50.5 553.24L45.21 551.06M48.14 557.44L41.73 555.13M47.03 562.09L40.34 560.02M44.51 574.99L38.3 573.9M43.95 579.32L37.39 578.45M43.76 583.69L37.04 583.07M43.54 588.03L37.37 587.73M42.93 592.37L36.63 592.33M43.66 600.34L34.14 601.01M43.74 605.07L35.7 606M45.02 609.65L36.5 611.03M45.64 614.32L37.06 616.11M47.75 619.75L36.17 622.85M48.67 623.6L37.45 627.07M50.19 627.26L39.26 631.11M51.21 631.1L40.29 635.43M53.1 634.6L41.95 639.52M63.76 525.53L59.72 522.26M60.25 529.93L55.48 526.46M57.45 534.81L53.2 532.05M54.82 539.77L49.33 536.6M51.47 544.32L47.47 542.28M49.28 549.5L44.28 547.28M47.09 554.67L43.56 553.32M214.83 649.85L220.16 654.32M216.29 647.86L221.46 651.96M217.76 645.89L223.93 650.5M219.22 643.9L225.37 648.24M220.1 641.54L225.48 645.11M221.78 639.7L228.15 643.68M222.86 637.49L229.62 641.46M224.43 635.56L229.24 638.2M225.44 633.31L230.96 636.15M226.16 630.93L231.88 633.67" fill="none" stroke="#3a3a3a" stroke-width="0.65"/>
<text x="217.2" y="494.4" font-size="9.6" text-anchor="middle" dominant-baseline="central" fill="#555" transform="rotate(37.7 217.2 494.4)">ST235</text>
<text x="90.3" y="488.1" font-size="9.6" text-anchor="middle" dominant-baseline="central" fill="#555" transform="rotate(-33.2 90.3 488.1)">ST309</text>
<text x="56.6" y="515.2" font-size="9.6" text-anchor="middle" dominant-baseline="central" fill="#555" transform="rotate(-45 56.6 515.2)">ST773</text>
<text x="36.2" y="550.5" font-size="9.6" text-anchor="middle" dominant-baseline="central" fill="#555" transform="rotate(-64.3 36.2 550.5)">ST357</text>
<text x="30.7" y="611.6" font-size="9.6" text-anchor="middle" dominant-baseline="central" fill="#555" transform="rotate(-78 30.7 611.6)">ST313</text>
<text x="149.8" y="571.6" font-size="12.3" text-anchor="middle" fill="#111" font-style="italic">P. aeruginosa</text>
<text x="149.4" y="585.8" font-size="12.3" text-anchor="middle" fill="#111">(<tspan font-style="italic">N</tspan> = 176)</text>
<path d="M492 601.5L449.2 560.17M490.96 542.01A59.5 59.5 0 0 0 432.51 602.54M490.96 542.01L490.69 526.51M524.88 534.09A75 75 0 0 0 454.5 536.55M454.5 536.55L447.25 523.99M455.6 519.74A89.5 89.5 0 0 0 440.66 528.19M440.66 528.19L435.33 520.57M455.6 519.74L453.77 515.63M464.52 511.61A94 94 0 0 0 453.77 515.63M464.52 511.61L463.64 508.74M475.16 505.97A97 97 0 0 0 458.82 510.35M439.64 517.71A98.8 98.8 0 0 0 432.54 522.59M439.64 517.71L436.89 513.3M432.54 522.59L429.41 518.44M447.72 510.72A101 101 0 0 0 439.98 514.93M447.72 510.72L445.97 507.13M439.98 514.93L437.92 511.5M475.16 505.97L474.03 499.57M522.26 502.52A103.5 103.5 0 0 0 460.02 503.07M460.02 503.07L459.24 500.69M522.26 502.52L523.58 498.22M524.88 534.09L529.7 524.2M529.7 524.2A86 86 0 0 0 518.58 519.71M518.58 519.71L521.36 511.15M527.59 513.42A95 95 0 0 0 518.19 510.18M527.59 513.42L535.45 493.95M518.19 510.18L523.97 489.99M529.82 500.34A108 108 0 0 0 525.37 498.79M529.82 500.34L531.57 495.66M525.37 498.79L526.92 494.03M529.7 524.2L530.84 521.87M542.82 528.92A88.6 88.6 0 0 0 530.84 521.87M533.6 523.27L538.95 513.21M542 514.9A100 100 0 0 0 534.26 510.87M542 514.9L553 495.84M534.26 510.87L543.56 490.93M542.82 528.92L544.37 526.71M556.56 536.94A91.3 91.3 0 0 0 544.37 526.71M546.95 528.58L553.99 519.24M558.21 522.6A103 103 0 0 0 549.6 516.11M558.21 522.6L569.78 508.81M549.6 516.11L559.66 501.19M562.48 514.46A112 112 0 0 0 557.83 510.89M562.48 514.46L566.26 509.8M557.83 510.89L561.36 506.04M556.56 536.94L558.82 534.68M568.45 545.95A94.5 94.5 0 0 0 558.82 534.68M561.11 537.05L568.06 530.57M571.67 534.65A104 104 0 0 0 564.24 526.69M571.67 534.65L582.39 525.65M564.24 526.69L573.97 516.62M568.45 545.95L570.64 544.37M576.18 552.9A97.2 97.2 0 0 0 570.64 544.37M573.52 548.56L580.9 543.77M583.8 548.5A106 106 0 0 0 578.83 540.7M583.8 548.5L595.06 542M578.83 540.7L589.48 533.24M576.18 552.9L579.38 551.05M584.18 560.46A100.9 100.9 0 0 0 579.38 551.05M584.18 560.46L586.64 559.36M590.53 569.49A103.6 103.6 0 0 0 586.64 559.36M591.61 565.25A106 106 0 0 0 588.84 558.39M591.61 565.25L600.06 562.17M588.84 558.39L597.06 554.73M590.53 569.49L596.62 567.51M598.73 574.89A110 110 0 0 0 596.01 565.69M598.73 574.89L605.52 573.2M596.01 565.69L602.63 563.41M602.63 563.41L606.41 562.11M612.88 596.01A121 121 0 0 0 604.96 558.14M432.5 602.12L411.7 602.34M411.83 594.2A80.5 80.5 0 0 0 412.02 610.61M411.83 594.2L397.69 592.92M412.02 610.61L397.91 612.22M396.94 592.35A95.5 95.5 0 0 0 397.43 614.79M399.91 567.98A98 98 0 0 0 394.45 592.11M405.83 551.75A99.5 99.5 0 0 0 397.37 570.75M429.71 518.84A103.5 103.5 0 0 0 402.37 549.75M394.5 601.5L379.2 601.5M382.18 575.74A112.8 112.8 0 0 0 379.2 601.5M386.85 576.84L382.18 575.74M393.51 561.51A106.3 106.3 0 0 0 389.37 573.81M393.51 561.51L391.93 560.87M389.37 573.81L387.73 573.37M393.51 561.51L372.07 551.33M376.95 545.39A128 128 0 0 0 371.72 557.72M376.95 545.39L374.26 544.07M371.72 557.72L368.9 556.7M414.98 531.91A103.8 103.8 0 0 0 403.59 547.11M414.98 531.91L411.87 529.09M403.59 547.11L400.01 544.91M410.03 532.72A107 107 0 0 0 403.29 541.67M410.03 532.72L407.74 530.79M403.29 541.67L400.81 539.99M429.71 518.84L427 515.25M492 601.5L477.33 611.4M476.37 609.81A17.7 17.7 0 0 0 477.86 612.15M477.86 612.15L435.3 644.23M475.52 612.83L431.84 642.85M476.37 609.81L468.16 614.18M467.26 612.31A27 27 0 0 0 468.86 615.41M468.86 615.41L424.28 642.19M467.26 612.31L457.64 616.51M456.99 614.94A37.5 37.5 0 0 0 458.59 618.52M458.59 618.52L422.06 637.14M456.99 614.94L421.7 628.49M423.52 623.75A72 72 0 0 0 425.24 628.47M423.52 623.75L419.72 624.99M425.24 628.47L421.53 629.97M425.53 638.35A76 76 0 0 0 427.55 641.77M425.53 638.35L422.91 639.8M427.55 641.77L425 643.36M492 601.5L509.38 607.83M507.52 611.58A18.5 18.5 0 0 0 510.16 605.03M510.16 605.03L533.72 609.61M533.05 612.5A42.5 42.5 0 0 0 534.42 604.17M534.42 604.17L543.9 604.77M543.49 608.74A52 52 0 0 0 544 601.05M544 601.05L575.4 600.77M575.35 604.41A83.4 83.4 0 0 0 575.4 600.77M575.35 604.41L578.95 604.54M575.4 600.77L579 600.74M543.85 605.4L584.24 608.44M543.49 608.74L585.38 614.62M583.6 614.37A92.5 92.5 0 0 0 584.24 608.44M583.6 614.37L586.08 614.72M584.24 608.44L586.73 608.62M533.05 612.5L556.72 618.84M554.96 624.42A67 67 0 0 0 557.77 614.28M557.77 614.28L570.53 616.76M565.74 619.89A76 76 0 0 0 566.6 616M565.74 619.89L571.56 621.34M566.6 616L572.49 617.15M554.96 624.42L569.05 629.55M566.91 634.85A82 82 0 0 0 570.42 625.47M570.42 625.47L576.15 627.23M566.91 634.85L575.68 638.76M574.69 631.6A88 88 0 0 0 576.15 627.23M574.69 631.6L579.39 633.31M576.15 627.23L580.94 628.69M575.35 639.49A91.6 91.6 0 0 0 576.44 637M575.35 639.49L577.54 640.48M576.44 637L578.66 637.93M507.52 611.58L567.48 650.52M554.73 666.46A90.3 90.3 0 0 0 568.83 648.95M568.83 648.95L580.48 656.15M577.77 661.55A104.7 104.7 0 0 0 584.19 651.14M584.19 651.14L604.88 662.28M577.77 661.55L586.2 667.46M583.84 670.71A115 115 0 0 0 589.53 662.44M589.53 662.44L606.23 672.88M583.84 670.71L594.23 678.53M592.17 681.18A128 128 0 0 0 595.55 676.74M592.17 681.18L593.74 682.43M595.55 676.74L597.17 677.91M554.73 666.46L573.07 685.45M567.79 690.24A116.7 116.7 0 0 0 578.45 679.89M578.45 679.89L584.3 685.2M575.2 690.73A122 122 0 0 0 579.76 686.25M575.2 690.73L577.93 693.65M579.76 686.25L582.64 689.03M567.79 690.24L573.64 697.08M395.25 679.85A124.5 124.5 0 0 0 572.86 696.17M430.25 708.45A123.5 123.5 0 0 0 562.84 702.67M400.3 675.76L395.25 679.85" fill="none" stroke="#444" stroke-width="0.6"/>
<text x="506.4" y="479.5" font-size="9.6" text-anchor="middle" dominant-baseline="central" fill="#555" transform="rotate(6 506.4 479.5)">ST410</text>
<text x="404.6" y="515.2" font-size="9.6" text-anchor="middle" dominant-baseline="central" fill="#555" transform="rotate(-43 404.6 515.2)">ST10</text>
<text x="370" y="587.5" font-size="9.6" text-anchor="middle" dominant-baseline="central" fill="#555" transform="rotate(-85 370 587.5)">ST44</text>
<text x="408" y="624" font-size="9.6" text-anchor="middle" dominant-baseline="central" fill="#555" transform="rotate(72 408 624)">ST405</text>
<text x="617.2" y="576" font-size="9.6" text-anchor="middle" dominant-baseline="central" fill="#555" transform="rotate(72 617.2 576)">ST101</text>
<text x="492.4" y="733" font-size="9.6" text-anchor="middle" dominant-baseline="central" fill="#555" transform="rotate(0 492.4 733)">ST131</text>
<text x="495.9" y="650.9" font-size="12.3" text-anchor="middle" fill="#111" font-style="italic">E. coli</text>
<text x="495.1" y="665" font-size="12.3" text-anchor="middle" fill="#111">(<tspan font-style="italic">N</tspan> = 181)</text>
<path d="M0.4 321.6V316.5H28.2V321.6" fill="none" stroke="#8a8a8a" stroke-width="0.9"/>
<text x="14.6" y="322.4" font-size="5.2" text-anchor="middle" fill="#333">0.063</text>
<path d="M344.6 321.4V316.3H372.3V321.4" fill="none" stroke="#8a8a8a" stroke-width="0.9"/>
<text x="358.4" y="322.4" font-size="5.2" text-anchor="middle" fill="#333">0.29</text>
<path d="M0.4 741.6V736.4H28.2V741.6" fill="none" stroke="#8a8a8a" stroke-width="0.9"/>
<text x="15.2" y="742.4" font-size="5.2" text-anchor="middle" fill="#333">0.38</text>
<path d="M345.5 734.6V729.2H374.3V734.6" fill="none" stroke="#8a8a8a" stroke-width="0.9"/>
<text x="360.1" y="735.6" font-size="5.2" text-anchor="middle" fill="#333">0.060</text>
</svg></body></html>
